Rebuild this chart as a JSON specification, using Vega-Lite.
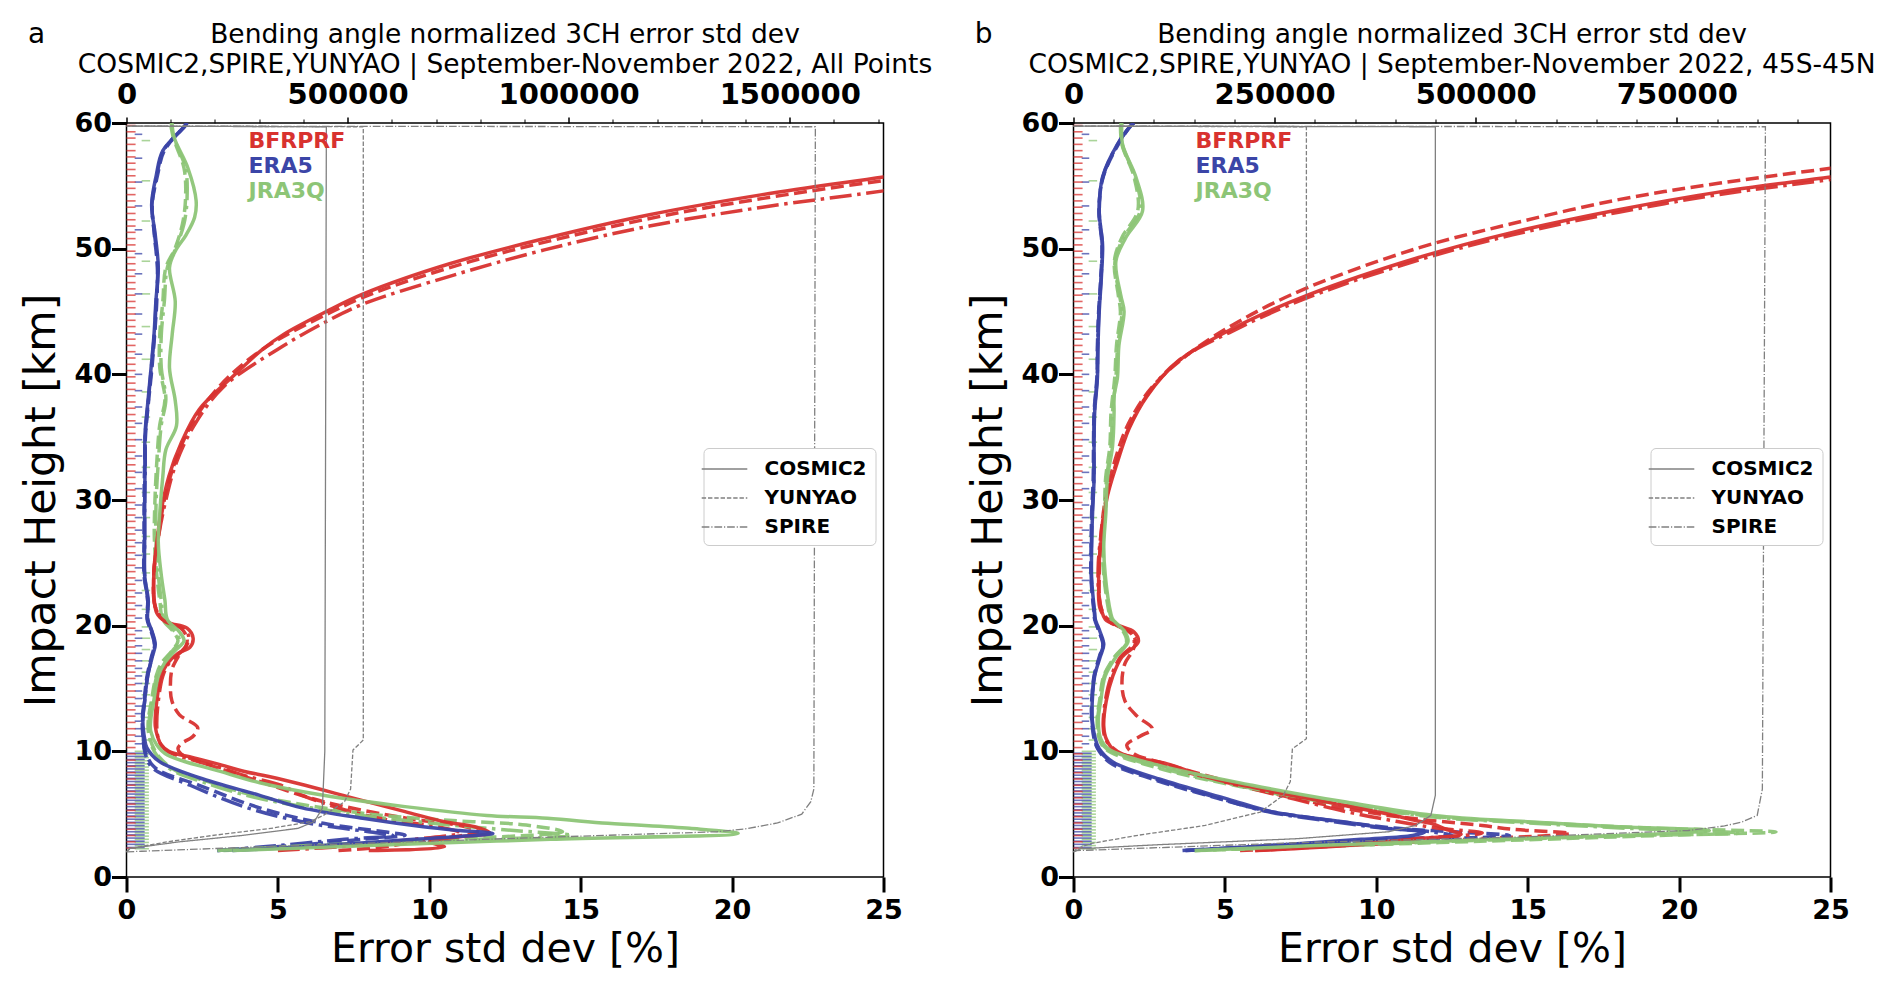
{
  "$schema": "https://vega.github.io/schema/vega-lite/v6.json",
  "background": "white",
  "padding": {"left": 19.5, "top": 20, "right": 10, "bottom": 8},
  "bounds": "flush",
  "spacing": 190,
  "datasets": {
    "prof": [
      {"panel":"a","model":"BFRPRF","mission":"COSMIC2","h":2.1,"err":8.0},
      {"panel":"a","model":"BFRPRF","mission":"COSMIC2","h":2.4,"err":10.5},
      {"panel":"a","model":"BFRPRF","mission":"COSMIC2","h":2.8,"err":10.0},
      {"panel":"a","model":"BFRPRF","mission":"COSMIC2","h":3.2,"err":11.0},
      {"panel":"a","model":"BFRPRF","mission":"COSMIC2","h":3.5,"err":12.0},
      {"panel":"a","model":"BFRPRF","mission":"COSMIC2","h":4.0,"err":11.5},
      {"panel":"a","model":"BFRPRF","mission":"COSMIC2","h":4.4,"err":10.5},
      {"panel":"a","model":"BFRPRF","mission":"COSMIC2","h":5.2,"err":9.2},
      {"panel":"a","model":"BFRPRF","mission":"COSMIC2","h":6.4,"err":7.3},
      {"panel":"a","model":"BFRPRF","mission":"COSMIC2","h":7.3,"err":5.9},
      {"panel":"a","model":"BFRPRF","mission":"COSMIC2","h":8.0,"err":4.7},
      {"panel":"a","model":"BFRPRF","mission":"COSMIC2","h":8.4,"err":3.9},
      {"panel":"a","model":"BFRPRF","mission":"COSMIC2","h":9.0,"err":3.0},
      {"panel":"a","model":"BFRPRF","mission":"COSMIC2","h":9.5,"err":2.2},
      {"panel":"a","model":"BFRPRF","mission":"COSMIC2","h":10.0,"err":1.4},
      {"panel":"a","model":"BFRPRF","mission":"COSMIC2","h":10.5,"err":1.15},
      {"panel":"a","model":"BFRPRF","mission":"COSMIC2","h":11,"err":1.05},
      {"panel":"a","model":"BFRPRF","mission":"COSMIC2","h":12,"err":0.95},
      {"panel":"a","model":"BFRPRF","mission":"COSMIC2","h":14,"err":1.0},
      {"panel":"a","model":"BFRPRF","mission":"COSMIC2","h":16,"err":1.15},
      {"panel":"a","model":"BFRPRF","mission":"COSMIC2","h":17,"err":1.35},
      {"panel":"a","model":"BFRPRF","mission":"COSMIC2","h":17.8,"err":1.7},
      {"panel":"a","model":"BFRPRF","mission":"COSMIC2","h":18.3,"err":2.1},
      {"panel":"a","model":"BFRPRF","mission":"COSMIC2","h":19,"err":2.2},
      {"panel":"a","model":"BFRPRF","mission":"COSMIC2","h":19.8,"err":2.0},
      {"panel":"a","model":"BFRPRF","mission":"COSMIC2","h":20.3,"err":1.3},
      {"panel":"a","model":"BFRPRF","mission":"COSMIC2","h":21,"err":1.0},
      {"panel":"a","model":"BFRPRF","mission":"COSMIC2","h":24,"err":0.9},
      {"panel":"a","model":"BFRPRF","mission":"COSMIC2","h":26.6,"err":1.0},
      {"panel":"a","model":"BFRPRF","mission":"COSMIC2","h":29.2,"err":1.15},
      {"panel":"a","model":"BFRPRF","mission":"COSMIC2","h":31.9,"err":1.4},
      {"panel":"a","model":"BFRPRF","mission":"COSMIC2","h":34.5,"err":1.8},
      {"panel":"a","model":"BFRPRF","mission":"COSMIC2","h":37.2,"err":2.4},
      {"panel":"a","model":"BFRPRF","mission":"COSMIC2","h":39.8,"err":3.5},
      {"panel":"a","model":"BFRPRF","mission":"COSMIC2","h":42,"err":4.5},
      {"panel":"a","model":"BFRPRF","mission":"COSMIC2","h":43.2,"err":5.2},
      {"panel":"a","model":"BFRPRF","mission":"COSMIC2","h":45,"err":6.6},
      {"panel":"a","model":"BFRPRF","mission":"COSMIC2","h":46.4,"err":7.82},
      {"panel":"a","model":"BFRPRF","mission":"COSMIC2","h":48.8,"err":10.67},
      {"panel":"a","model":"BFRPRF","mission":"COSMIC2","h":50.8,"err":13.8},
      {"panel":"a","model":"BFRPRF","mission":"COSMIC2","h":52.7,"err":17.27},
      {"panel":"a","model":"BFRPRF","mission":"COSMIC2","h":54.3,"err":21.0},
      {"panel":"a","model":"BFRPRF","mission":"COSMIC2","h":55.7,"err":25.0},
      {"panel":"a","model":"BFRPRF","mission":"COSMIC2","h":57,"err":28.7},
      {"panel":"a","model":"BFRPRF","mission":"COSMIC2","h":58,"err":32},

      {"panel":"a","model":"BFRPRF","mission":"YUNYAO","h":2.1,"err":7.0},
      {"panel":"a","model":"BFRPRF","mission":"YUNYAO","h":2.4,"err":8.5},
      {"panel":"a","model":"BFRPRF","mission":"YUNYAO","h":2.8,"err":9.5},
      {"panel":"a","model":"BFRPRF","mission":"YUNYAO","h":3.2,"err":10.8},
      {"panel":"a","model":"BFRPRF","mission":"YUNYAO","h":3.6,"err":11.6},
      {"panel":"a","model":"BFRPRF","mission":"YUNYAO","h":4.0,"err":11.2},
      {"panel":"a","model":"BFRPRF","mission":"YUNYAO","h":4.7,"err":9.2},
      {"panel":"a","model":"BFRPRF","mission":"YUNYAO","h":6.0,"err":6.5},
      {"panel":"a","model":"BFRPRF","mission":"YUNYAO","h":7.6,"err":4.4},
      {"panel":"a","model":"BFRPRF","mission":"YUNYAO","h":9.2,"err":2.4},
      {"panel":"a","model":"BFRPRF","mission":"YUNYAO","h":9.8,"err":1.8},
      {"panel":"a","model":"BFRPRF","mission":"YUNYAO","h":10.2,"err":1.7},
      {"panel":"a","model":"BFRPRF","mission":"YUNYAO","h":10.6,"err":1.8},
      {"panel":"a","model":"BFRPRF","mission":"YUNYAO","h":11.2,"err":2.2},
      {"panel":"a","model":"BFRPRF","mission":"YUNYAO","h":11.9,"err":2.35},
      {"panel":"a","model":"BFRPRF","mission":"YUNYAO","h":12.9,"err":1.75},
      {"panel":"a","model":"BFRPRF","mission":"YUNYAO","h":14,"err":1.5},
      {"panel":"a","model":"BFRPRF","mission":"YUNYAO","h":15.1,"err":1.45},
      {"panel":"a","model":"BFRPRF","mission":"YUNYAO","h":16.5,"err":1.5},
      {"panel":"a","model":"BFRPRF","mission":"YUNYAO","h":17.5,"err":1.7},
      {"panel":"a","model":"BFRPRF","mission":"YUNYAO","h":18.3,"err":1.95},
      {"panel":"a","model":"BFRPRF","mission":"YUNYAO","h":19,"err":2.0},
      {"panel":"a","model":"BFRPRF","mission":"YUNYAO","h":19.8,"err":1.8},
      {"panel":"a","model":"BFRPRF","mission":"YUNYAO","h":20.5,"err":1.2},
      {"panel":"a","model":"BFRPRF","mission":"YUNYAO","h":21.5,"err":0.95},
      {"panel":"a","model":"BFRPRF","mission":"YUNYAO","h":24,"err":0.9},
      {"panel":"a","model":"BFRPRF","mission":"YUNYAO","h":27,"err":1.05},
      {"panel":"a","model":"BFRPRF","mission":"YUNYAO","h":30,"err":1.25},
      {"panel":"a","model":"BFRPRF","mission":"YUNYAO","h":33,"err":1.6},
      {"panel":"a","model":"BFRPRF","mission":"YUNYAO","h":36,"err":2.15},
      {"panel":"a","model":"BFRPRF","mission":"YUNYAO","h":39,"err":3.05},
      {"panel":"a","model":"BFRPRF","mission":"YUNYAO","h":42,"err":4.5},
      {"panel":"a","model":"BFRPRF","mission":"YUNYAO","h":45,"err":6.8},
      {"panel":"a","model":"BFRPRF","mission":"YUNYAO","h":46.4,"err":8.1},
      {"panel":"a","model":"BFRPRF","mission":"YUNYAO","h":48.8,"err":11.1},
      {"panel":"a","model":"BFRPRF","mission":"YUNYAO","h":50.8,"err":14.3},
      {"panel":"a","model":"BFRPRF","mission":"YUNYAO","h":52.7,"err":17.9},
      {"panel":"a","model":"BFRPRF","mission":"YUNYAO","h":54.3,"err":21.8},
      {"panel":"a","model":"BFRPRF","mission":"YUNYAO","h":55.7,"err":25.8},
      {"panel":"a","model":"BFRPRF","mission":"YUNYAO","h":57,"err":29.5},

      {"panel":"a","model":"BFRPRF","mission":"SPIRE","h":2.1,"err":5.0},
      {"panel":"a","model":"BFRPRF","mission":"SPIRE","h":2.5,"err":7.5},
      {"panel":"a","model":"BFRPRF","mission":"SPIRE","h":3.0,"err":9.5},
      {"panel":"a","model":"BFRPRF","mission":"SPIRE","h":3.5,"err":11.0},
      {"panel":"a","model":"BFRPRF","mission":"SPIRE","h":4.0,"err":10.3},
      {"panel":"a","model":"BFRPRF","mission":"SPIRE","h":4.6,"err":8.5},
      {"panel":"a","model":"BFRPRF","mission":"SPIRE","h":5.5,"err":7.0},
      {"panel":"a","model":"BFRPRF","mission":"SPIRE","h":6.5,"err":5.8},
      {"panel":"a","model":"BFRPRF","mission":"SPIRE","h":7.3,"err":5.1},
      {"panel":"a","model":"BFRPRF","mission":"SPIRE","h":8.0,"err":4.0},
      {"panel":"a","model":"BFRPRF","mission":"SPIRE","h":8.7,"err":3.1},
      {"panel":"a","model":"BFRPRF","mission":"SPIRE","h":9.3,"err":2.2},
      {"panel":"a","model":"BFRPRF","mission":"SPIRE","h":10.0,"err":1.35},
      {"panel":"a","model":"BFRPRF","mission":"SPIRE","h":10.5,"err":1.15},
      {"panel":"a","model":"BFRPRF","mission":"SPIRE","h":11,"err":1.05},
      {"panel":"a","model":"BFRPRF","mission":"SPIRE","h":12,"err":1.0},
      {"panel":"a","model":"BFRPRF","mission":"SPIRE","h":14,"err":1.05},
      {"panel":"a","model":"BFRPRF","mission":"SPIRE","h":16,"err":1.2},
      {"panel":"a","model":"BFRPRF","mission":"SPIRE","h":17,"err":1.4},
      {"panel":"a","model":"BFRPRF","mission":"SPIRE","h":17.8,"err":1.75},
      {"panel":"a","model":"BFRPRF","mission":"SPIRE","h":18.5,"err":2.0},
      {"panel":"a","model":"BFRPRF","mission":"SPIRE","h":19.2,"err":2.05},
      {"panel":"a","model":"BFRPRF","mission":"SPIRE","h":19.8,"err":1.85},
      {"panel":"a","model":"BFRPRF","mission":"SPIRE","h":20.4,"err":1.25},
      {"panel":"a","model":"BFRPRF","mission":"SPIRE","h":21.5,"err":0.95},
      {"panel":"a","model":"BFRPRF","mission":"SPIRE","h":24,"err":0.9},
      {"panel":"a","model":"BFRPRF","mission":"SPIRE","h":27,"err":1.05},
      {"panel":"a","model":"BFRPRF","mission":"SPIRE","h":30,"err":1.3},
      {"panel":"a","model":"BFRPRF","mission":"SPIRE","h":33,"err":1.65},
      {"panel":"a","model":"BFRPRF","mission":"SPIRE","h":36,"err":2.25},
      {"panel":"a","model":"BFRPRF","mission":"SPIRE","h":39,"err":3.2},
      {"panel":"a","model":"BFRPRF","mission":"SPIRE","h":42,"err":5.0},
      {"panel":"a","model":"BFRPRF","mission":"SPIRE","h":44.2,"err":6.6},
      {"panel":"a","model":"BFRPRF","mission":"SPIRE","h":45.6,"err":7.82},
      {"panel":"a","model":"BFRPRF","mission":"SPIRE","h":47.8,"err":10.67},
      {"panel":"a","model":"BFRPRF","mission":"SPIRE","h":49.9,"err":13.8},
      {"panel":"a","model":"BFRPRF","mission":"SPIRE","h":51.8,"err":17.27},
      {"panel":"a","model":"BFRPRF","mission":"SPIRE","h":53.3,"err":21.0},
      {"panel":"a","model":"BFRPRF","mission":"SPIRE","h":54.6,"err":25.0},
      {"panel":"a","model":"BFRPRF","mission":"SPIRE","h":56,"err":29},

      {"panel":"a","model":"ERA5","mission":"COSMIC2","h":2.1,"err":3.5},
      {"panel":"a","model":"ERA5","mission":"COSMIC2","h":2.5,"err":6.5},
      {"panel":"a","model":"ERA5","mission":"COSMIC2","h":3.0,"err":9.5},
      {"panel":"a","model":"ERA5","mission":"COSMIC2","h":3.47,"err":12.1},
      {"panel":"a","model":"ERA5","mission":"COSMIC2","h":3.7,"err":11.0},
      {"panel":"a","model":"ERA5","mission":"COSMIC2","h":4.0,"err":9.8},
      {"panel":"a","model":"ERA5","mission":"COSMIC2","h":4.67,"err":7.8},
      {"panel":"a","model":"ERA5","mission":"COSMIC2","h":5.5,"err":5.8},
      {"panel":"a","model":"ERA5","mission":"COSMIC2","h":6.5,"err":4.4},
      {"panel":"a","model":"ERA5","mission":"COSMIC2","h":7.9,"err":2.4},
      {"panel":"a","model":"ERA5","mission":"COSMIC2","h":9.2,"err":1.08},
      {"panel":"a","model":"ERA5","mission":"COSMIC2","h":10.3,"err":0.67},
      {"panel":"a","model":"ERA5","mission":"COSMIC2","h":11,"err":0.6},
      {"panel":"a","model":"ERA5","mission":"COSMIC2","h":12.4,"err":0.54},
      {"panel":"a","model":"ERA5","mission":"COSMIC2","h":14,"err":0.6},
      {"panel":"a","model":"ERA5","mission":"COSMIC2","h":16,"err":0.7},
      {"panel":"a","model":"ERA5","mission":"COSMIC2","h":17.5,"err":0.85},
      {"panel":"a","model":"ERA5","mission":"COSMIC2","h":18.5,"err":0.95},
      {"panel":"a","model":"ERA5","mission":"COSMIC2","h":19.5,"err":0.85},
      {"panel":"a","model":"ERA5","mission":"COSMIC2","h":20.5,"err":0.7},
      {"panel":"a","model":"ERA5","mission":"COSMIC2","h":22,"err":0.72},
      {"panel":"a","model":"ERA5","mission":"COSMIC2","h":24,"err":0.6},
      {"panel":"a","model":"ERA5","mission":"COSMIC2","h":26.6,"err":0.6},
      {"panel":"a","model":"ERA5","mission":"COSMIC2","h":29,"err":0.6},
      {"panel":"a","model":"ERA5","mission":"COSMIC2","h":32.5,"err":0.61},
      {"panel":"a","model":"ERA5","mission":"COSMIC2","h":35.2,"err":0.61},
      {"panel":"a","model":"ERA5","mission":"COSMIC2","h":37.9,"err":0.71},
      {"panel":"a","model":"ERA5","mission":"COSMIC2","h":40.5,"err":0.81},
      {"panel":"a","model":"ERA5","mission":"COSMIC2","h":43.2,"err":0.91},
      {"panel":"a","model":"ERA5","mission":"COSMIC2","h":45.8,"err":0.97},
      {"panel":"a","model":"ERA5","mission":"COSMIC2","h":48.5,"err":1.05},
      {"panel":"a","model":"ERA5","mission":"COSMIC2","h":51.1,"err":0.95},
      {"panel":"a","model":"ERA5","mission":"COSMIC2","h":53.5,"err":0.83},
      {"panel":"a","model":"ERA5","mission":"COSMIC2","h":55.8,"err":0.98},
      {"panel":"a","model":"ERA5","mission":"COSMIC2","h":57.8,"err":1.2},
      {"panel":"a","model":"ERA5","mission":"COSMIC2","h":59.7,"err":1.92},
      {"panel":"a","model":"ERA5","mission":"COSMIC2","h":60,"err":2.0},

      {"panel":"a","model":"ERA5","mission":"YUNYAO","h":2.1,"err":3.0},
      {"panel":"a","model":"ERA5","mission":"YUNYAO","h":2.5,"err":5.5},
      {"panel":"a","model":"ERA5","mission":"YUNYAO","h":3.0,"err":7.8},
      {"panel":"a","model":"ERA5","mission":"YUNYAO","h":3.33,"err":9.2},
      {"panel":"a","model":"ERA5","mission":"YUNYAO","h":3.6,"err":8.5},
      {"panel":"a","model":"ERA5","mission":"YUNYAO","h":4.27,"err":6.5},
      {"panel":"a","model":"ERA5","mission":"YUNYAO","h":5.5,"err":4.4},
      {"panel":"a","model":"ERA5","mission":"YUNYAO","h":7.3,"err":2.4},
      {"panel":"a","model":"ERA5","mission":"YUNYAO","h":8.7,"err":0.94},
      {"panel":"a","model":"ERA5","mission":"YUNYAO","h":10,"err":0.62},
      {"panel":"a","model":"ERA5","mission":"YUNYAO","h":11,"err":0.55},
      {"panel":"a","model":"ERA5","mission":"YUNYAO","h":12.4,"err":0.52},
      {"panel":"a","model":"ERA5","mission":"YUNYAO","h":14,"err":0.58},
      {"panel":"a","model":"ERA5","mission":"YUNYAO","h":16,"err":0.68},
      {"panel":"a","model":"ERA5","mission":"YUNYAO","h":17.5,"err":0.82},
      {"panel":"a","model":"ERA5","mission":"YUNYAO","h":18.5,"err":0.92},
      {"panel":"a","model":"ERA5","mission":"YUNYAO","h":19.5,"err":0.82},
      {"panel":"a","model":"ERA5","mission":"YUNYAO","h":20.5,"err":0.68},
      {"panel":"a","model":"ERA5","mission":"YUNYAO","h":22,"err":0.7},
      {"panel":"a","model":"ERA5","mission":"YUNYAO","h":24,"err":0.58},
      {"panel":"a","model":"ERA5","mission":"YUNYAO","h":27,"err":0.58},
      {"panel":"a","model":"ERA5","mission":"YUNYAO","h":30,"err":0.58},
      {"panel":"a","model":"ERA5","mission":"YUNYAO","h":33,"err":0.6},
      {"panel":"a","model":"ERA5","mission":"YUNYAO","h":35.2,"err":0.63},
      {"panel":"a","model":"ERA5","mission":"YUNYAO","h":37.9,"err":0.73},
      {"panel":"a","model":"ERA5","mission":"YUNYAO","h":40.5,"err":0.84},
      {"panel":"a","model":"ERA5","mission":"YUNYAO","h":43.2,"err":0.93},
      {"panel":"a","model":"ERA5","mission":"YUNYAO","h":45.8,"err":1.0},
      {"panel":"a","model":"ERA5","mission":"YUNYAO","h":48.5,"err":1.02},
      {"panel":"a","model":"ERA5","mission":"YUNYAO","h":51.1,"err":0.92},
      {"panel":"a","model":"ERA5","mission":"YUNYAO","h":53.5,"err":0.85},
      {"panel":"a","model":"ERA5","mission":"YUNYAO","h":55.8,"err":1.02},
      {"panel":"a","model":"ERA5","mission":"YUNYAO","h":57.8,"err":1.25},
      {"panel":"a","model":"ERA5","mission":"YUNYAO","h":59.7,"err":1.9},
      {"panel":"a","model":"ERA5","mission":"YUNYAO","h":60,"err":2.0},

      {"panel":"a","model":"ERA5","mission":"SPIRE","h":2.1,"err":3.0},
      {"panel":"a","model":"ERA5","mission":"SPIRE","h":2.5,"err":5.0},
      {"panel":"a","model":"ERA5","mission":"SPIRE","h":3.0,"err":7.2},
      {"panel":"a","model":"ERA5","mission":"SPIRE","h":3.3,"err":8.8},
      {"panel":"a","model":"ERA5","mission":"SPIRE","h":3.6,"err":8.0},
      {"panel":"a","model":"ERA5","mission":"SPIRE","h":4.3,"err":6.0},
      {"panel":"a","model":"ERA5","mission":"SPIRE","h":5.5,"err":4.0},
      {"panel":"a","model":"ERA5","mission":"SPIRE","h":7.3,"err":2.1},
      {"panel":"a","model":"ERA5","mission":"SPIRE","h":8.7,"err":0.85},
      {"panel":"a","model":"ERA5","mission":"SPIRE","h":10,"err":0.6},
      {"panel":"a","model":"ERA5","mission":"SPIRE","h":11,"err":0.56},
      {"panel":"a","model":"ERA5","mission":"SPIRE","h":12.4,"err":0.53},
      {"panel":"a","model":"ERA5","mission":"SPIRE","h":14,"err":0.6},
      {"panel":"a","model":"ERA5","mission":"SPIRE","h":16,"err":0.7},
      {"panel":"a","model":"ERA5","mission":"SPIRE","h":17.5,"err":0.84},
      {"panel":"a","model":"ERA5","mission":"SPIRE","h":18.5,"err":0.93},
      {"panel":"a","model":"ERA5","mission":"SPIRE","h":19.5,"err":0.84},
      {"panel":"a","model":"ERA5","mission":"SPIRE","h":20.5,"err":0.7},
      {"panel":"a","model":"ERA5","mission":"SPIRE","h":22,"err":0.7},
      {"panel":"a","model":"ERA5","mission":"SPIRE","h":24,"err":0.6},
      {"panel":"a","model":"ERA5","mission":"SPIRE","h":27,"err":0.6},
      {"panel":"a","model":"ERA5","mission":"SPIRE","h":30,"err":0.6},
      {"panel":"a","model":"ERA5","mission":"SPIRE","h":33,"err":0.62},
      {"panel":"a","model":"ERA5","mission":"SPIRE","h":35.2,"err":0.62},
      {"panel":"a","model":"ERA5","mission":"SPIRE","h":37.9,"err":0.72},
      {"panel":"a","model":"ERA5","mission":"SPIRE","h":40.5,"err":0.82},
      {"panel":"a","model":"ERA5","mission":"SPIRE","h":43.2,"err":0.92},
      {"panel":"a","model":"ERA5","mission":"SPIRE","h":45.8,"err":0.98},
      {"panel":"a","model":"ERA5","mission":"SPIRE","h":48.5,"err":1.03},
      {"panel":"a","model":"ERA5","mission":"SPIRE","h":51.1,"err":0.93},
      {"panel":"a","model":"ERA5","mission":"SPIRE","h":53.5,"err":0.84},
      {"panel":"a","model":"ERA5","mission":"SPIRE","h":55.8,"err":1.0},
      {"panel":"a","model":"ERA5","mission":"SPIRE","h":57.8,"err":1.22},
      {"panel":"a","model":"ERA5","mission":"SPIRE","h":59.7,"err":1.9},
      {"panel":"a","model":"ERA5","mission":"SPIRE","h":60,"err":2.0},

      {"panel":"a","model":"JRA3Q","mission":"COSMIC2","h":2.1,"err":3.5},
      {"panel":"a","model":"JRA3Q","mission":"COSMIC2","h":2.5,"err":8.0},
      {"panel":"a","model":"JRA3Q","mission":"COSMIC2","h":3.0,"err":14.0},
      {"panel":"a","model":"JRA3Q","mission":"COSMIC2","h":3.47,"err":20.2},
      {"panel":"a","model":"JRA3Q","mission":"COSMIC2","h":3.87,"err":18.6},
      {"panel":"a","model":"JRA3Q","mission":"COSMIC2","h":4.27,"err":15.9},
      {"panel":"a","model":"JRA3Q","mission":"COSMIC2","h":4.67,"err":13.9},
      {"panel":"a","model":"JRA3Q","mission":"COSMIC2","h":4.9,"err":11.9},
      {"panel":"a","model":"JRA3Q","mission":"COSMIC2","h":5.6,"err":9.2},
      {"panel":"a","model":"JRA3Q","mission":"COSMIC2","h":6.5,"err":6.5},
      {"panel":"a","model":"JRA3Q","mission":"COSMIC2","h":7.5,"err":4.4},
      {"panel":"a","model":"JRA3Q","mission":"COSMIC2","h":8.4,"err":3.1},
      {"panel":"a","model":"JRA3Q","mission":"COSMIC2","h":9.7,"err":1.35},
      {"panel":"a","model":"JRA3Q","mission":"COSMIC2","h":10.5,"err":1.0},
      {"panel":"a","model":"JRA3Q","mission":"COSMIC2","h":11.6,"err":0.8},
      {"panel":"a","model":"JRA3Q","mission":"COSMIC2","h":12.5,"err":0.8},
      {"panel":"a","model":"JRA3Q","mission":"COSMIC2","h":14,"err":0.9},
      {"panel":"a","model":"JRA3Q","mission":"COSMIC2","h":16,"err":1.05},
      {"panel":"a","model":"JRA3Q","mission":"COSMIC2","h":17,"err":1.25},
      {"panel":"a","model":"JRA3Q","mission":"COSMIC2","h":18,"err":1.6},
      {"panel":"a","model":"JRA3Q","mission":"COSMIC2","h":18.8,"err":1.9},
      {"panel":"a","model":"JRA3Q","mission":"COSMIC2","h":19.5,"err":1.75},
      {"panel":"a","model":"JRA3Q","mission":"COSMIC2","h":20.5,"err":1.35},
      {"panel":"a","model":"JRA3Q","mission":"COSMIC2","h":22,"err":1.27},
      {"panel":"a","model":"JRA3Q","mission":"COSMIC2","h":24,"err":1.15},
      {"panel":"a","model":"JRA3Q","mission":"COSMIC2","h":26.6,"err":1.05},
      {"panel":"a","model":"JRA3Q","mission":"COSMIC2","h":29,"err":1.1},
      {"panel":"a","model":"JRA3Q","mission":"COSMIC2","h":31.9,"err":1.2},
      {"panel":"a","model":"JRA3Q","mission":"COSMIC2","h":34,"err":1.3},
      {"panel":"a","model":"JRA3Q","mission":"COSMIC2","h":35.9,"err":1.65},
      {"panel":"a","model":"JRA3Q","mission":"COSMIC2","h":37.9,"err":1.61},
      {"panel":"a","model":"JRA3Q","mission":"COSMIC2","h":40.5,"err":1.42},
      {"panel":"a","model":"JRA3Q","mission":"COSMIC2","h":43.2,"err":1.51},
      {"panel":"a","model":"JRA3Q","mission":"COSMIC2","h":45.8,"err":1.61},
      {"panel":"a","model":"JRA3Q","mission":"COSMIC2","h":48.5,"err":1.42},
      {"panel":"a","model":"JRA3Q","mission":"COSMIC2","h":49.8,"err":1.61},
      {"panel":"a","model":"JRA3Q","mission":"COSMIC2","h":51.1,"err":1.97},
      {"panel":"a","model":"JRA3Q","mission":"COSMIC2","h":52.5,"err":2.25},
      {"panel":"a","model":"JRA3Q","mission":"COSMIC2","h":53.8,"err":2.3},
      {"panel":"a","model":"JRA3Q","mission":"COSMIC2","h":56.4,"err":2.03},
      {"panel":"a","model":"JRA3Q","mission":"COSMIC2","h":58.8,"err":1.58},
      {"panel":"a","model":"JRA3Q","mission":"COSMIC2","h":60,"err":1.5},

      {"panel":"a","model":"JRA3Q","mission":"YUNYAO","h":2.1,"err":3.2},
      {"panel":"a","model":"JRA3Q","mission":"YUNYAO","h":2.5,"err":6.5},
      {"panel":"a","model":"JRA3Q","mission":"YUNYAO","h":3.0,"err":10.5},
      {"panel":"a","model":"JRA3Q","mission":"YUNYAO","h":3.6,"err":14.4},
      {"panel":"a","model":"JRA3Q","mission":"YUNYAO","h":4.13,"err":13.2},
      {"panel":"a","model":"JRA3Q","mission":"YUNYAO","h":4.53,"err":10.5},
      {"panel":"a","model":"JRA3Q","mission":"YUNYAO","h":5.07,"err":7.8},
      {"panel":"a","model":"JRA3Q","mission":"YUNYAO","h":6.5,"err":4.2},
      {"panel":"a","model":"JRA3Q","mission":"YUNYAO","h":7.5,"err":2.8},
      {"panel":"a","model":"JRA3Q","mission":"YUNYAO","h":8.5,"err":1.6},
      {"panel":"a","model":"JRA3Q","mission":"YUNYAO","h":9.5,"err":1.1},
      {"panel":"a","model":"JRA3Q","mission":"YUNYAO","h":10.5,"err":0.85},
      {"panel":"a","model":"JRA3Q","mission":"YUNYAO","h":11.6,"err":0.72},
      {"panel":"a","model":"JRA3Q","mission":"YUNYAO","h":12.5,"err":0.72},
      {"panel":"a","model":"JRA3Q","mission":"YUNYAO","h":14,"err":0.82},
      {"panel":"a","model":"JRA3Q","mission":"YUNYAO","h":16,"err":0.98},
      {"panel":"a","model":"JRA3Q","mission":"YUNYAO","h":17,"err":1.15},
      {"panel":"a","model":"JRA3Q","mission":"YUNYAO","h":18,"err":1.5},
      {"panel":"a","model":"JRA3Q","mission":"YUNYAO","h":18.8,"err":1.7},
      {"panel":"a","model":"JRA3Q","mission":"YUNYAO","h":19.5,"err":1.55},
      {"panel":"a","model":"JRA3Q","mission":"YUNYAO","h":20.5,"err":1.2},
      {"panel":"a","model":"JRA3Q","mission":"YUNYAO","h":22,"err":1.1},
      {"panel":"a","model":"JRA3Q","mission":"YUNYAO","h":24,"err":1.0},
      {"panel":"a","model":"JRA3Q","mission":"YUNYAO","h":27,"err":0.92},
      {"panel":"a","model":"JRA3Q","mission":"YUNYAO","h":30,"err":0.94},
      {"panel":"a","model":"JRA3Q","mission":"YUNYAO","h":33,"err":1.0},
      {"panel":"a","model":"JRA3Q","mission":"YUNYAO","h":36,"err":1.1},
      {"panel":"a","model":"JRA3Q","mission":"YUNYAO","h":38,"err":1.27},
      {"panel":"a","model":"JRA3Q","mission":"YUNYAO","h":40.5,"err":1.1},
      {"panel":"a","model":"JRA3Q","mission":"YUNYAO","h":43.2,"err":1.1},
      {"panel":"a","model":"JRA3Q","mission":"YUNYAO","h":45.8,"err":1.2},
      {"panel":"a","model":"JRA3Q","mission":"YUNYAO","h":48.5,"err":1.3},
      {"panel":"a","model":"JRA3Q","mission":"YUNYAO","h":50,"err":1.6},
      {"panel":"a","model":"JRA3Q","mission":"YUNYAO","h":52,"err":1.85},
      {"panel":"a","model":"JRA3Q","mission":"YUNYAO","h":54,"err":1.95},
      {"panel":"a","model":"JRA3Q","mission":"YUNYAO","h":56.4,"err":1.9},
      {"panel":"a","model":"JRA3Q","mission":"YUNYAO","h":58.8,"err":1.55},
      {"panel":"a","model":"JRA3Q","mission":"YUNYAO","h":60,"err":1.45},

      {"panel":"a","model":"JRA3Q","mission":"SPIRE","h":2.1,"err":3.0},
      {"panel":"a","model":"JRA3Q","mission":"SPIRE","h":2.5,"err":6.0},
      {"panel":"a","model":"JRA3Q","mission":"SPIRE","h":2.9,"err":10.0},
      {"panel":"a","model":"JRA3Q","mission":"SPIRE","h":3.3,"err":14.7},
      {"panel":"a","model":"JRA3Q","mission":"SPIRE","h":3.7,"err":12.8},
      {"panel":"a","model":"JRA3Q","mission":"SPIRE","h":4.3,"err":10.0},
      {"panel":"a","model":"JRA3Q","mission":"SPIRE","h":5.0,"err":7.5},
      {"panel":"a","model":"JRA3Q","mission":"SPIRE","h":6.3,"err":4.3},
      {"panel":"a","model":"JRA3Q","mission":"SPIRE","h":7.5,"err":2.6},
      {"panel":"a","model":"JRA3Q","mission":"SPIRE","h":8.5,"err":1.5},
      {"panel":"a","model":"JRA3Q","mission":"SPIRE","h":9.5,"err":1.05},
      {"panel":"a","model":"JRA3Q","mission":"SPIRE","h":10.5,"err":0.82},
      {"panel":"a","model":"JRA3Q","mission":"SPIRE","h":11.6,"err":0.75},
      {"panel":"a","model":"JRA3Q","mission":"SPIRE","h":12.5,"err":0.75},
      {"panel":"a","model":"JRA3Q","mission":"SPIRE","h":14,"err":0.85},
      {"panel":"a","model":"JRA3Q","mission":"SPIRE","h":16,"err":1.0},
      {"panel":"a","model":"JRA3Q","mission":"SPIRE","h":17,"err":1.18},
      {"panel":"a","model":"JRA3Q","mission":"SPIRE","h":18,"err":1.52},
      {"panel":"a","model":"JRA3Q","mission":"SPIRE","h":18.8,"err":1.75},
      {"panel":"a","model":"JRA3Q","mission":"SPIRE","h":19.5,"err":1.6},
      {"panel":"a","model":"JRA3Q","mission":"SPIRE","h":20.5,"err":1.25},
      {"panel":"a","model":"JRA3Q","mission":"SPIRE","h":22,"err":1.15},
      {"panel":"a","model":"JRA3Q","mission":"SPIRE","h":24,"err":1.05},
      {"panel":"a","model":"JRA3Q","mission":"SPIRE","h":27,"err":0.97},
      {"panel":"a","model":"JRA3Q","mission":"SPIRE","h":30,"err":0.98},
      {"panel":"a","model":"JRA3Q","mission":"SPIRE","h":33,"err":1.05},
      {"panel":"a","model":"JRA3Q","mission":"SPIRE","h":36,"err":1.15},
      {"panel":"a","model":"JRA3Q","mission":"SPIRE","h":38,"err":1.3},
      {"panel":"a","model":"JRA3Q","mission":"SPIRE","h":40.5,"err":1.15},
      {"panel":"a","model":"JRA3Q","mission":"SPIRE","h":43.2,"err":1.15},
      {"panel":"a","model":"JRA3Q","mission":"SPIRE","h":45.8,"err":1.25},
      {"panel":"a","model":"JRA3Q","mission":"SPIRE","h":48.5,"err":1.35},
      {"panel":"a","model":"JRA3Q","mission":"SPIRE","h":50,"err":1.62},
      {"panel":"a","model":"JRA3Q","mission":"SPIRE","h":52,"err":1.9},
      {"panel":"a","model":"JRA3Q","mission":"SPIRE","h":54,"err":2.0},
      {"panel":"a","model":"JRA3Q","mission":"SPIRE","h":56.4,"err":1.95},
      {"panel":"a","model":"JRA3Q","mission":"SPIRE","h":58.8,"err":1.57},
      {"panel":"a","model":"JRA3Q","mission":"SPIRE","h":60,"err":1.48},

      {"panel":"b","model":"BFRPRF","mission":"COSMIC2","h":2.1,"err":6.0},
      {"panel":"b","model":"BFRPRF","mission":"COSMIC2","h":2.5,"err":9.0},
      {"panel":"b","model":"BFRPRF","mission":"COSMIC2","h":3.0,"err":11.0},
      {"panel":"b","model":"BFRPRF","mission":"COSMIC2","h":3.4,"err":12.8},
      {"panel":"b","model":"BFRPRF","mission":"COSMIC2","h":3.8,"err":12.3},
      {"panel":"b","model":"BFRPRF","mission":"COSMIC2","h":4.2,"err":11.9},
      {"panel":"b","model":"BFRPRF","mission":"COSMIC2","h":4.5,"err":11.3},
      {"panel":"b","model":"BFRPRF","mission":"COSMIC2","h":5.0,"err":10.4},
      {"panel":"b","model":"BFRPRF","mission":"COSMIC2","h":6.0,"err":8.3},
      {"panel":"b","model":"BFRPRF","mission":"COSMIC2","h":7.0,"err":6.2},
      {"panel":"b","model":"BFRPRF","mission":"COSMIC2","h":8.0,"err":4.35},
      {"panel":"b","model":"BFRPRF","mission":"COSMIC2","h":9.0,"err":3.1},
      {"panel":"b","model":"BFRPRF","mission":"COSMIC2","h":9.5,"err":2.07},
      {"panel":"b","model":"BFRPRF","mission":"COSMIC2","h":10.0,"err":1.38},
      {"panel":"b","model":"BFRPRF","mission":"COSMIC2","h":11,"err":1.08},
      {"panel":"b","model":"BFRPRF","mission":"COSMIC2","h":12,"err":1.0},
      {"panel":"b","model":"BFRPRF","mission":"COSMIC2","h":14,"err":1.08},
      {"panel":"b","model":"BFRPRF","mission":"COSMIC2","h":16,"err":1.3},
      {"panel":"b","model":"BFRPRF","mission":"COSMIC2","h":17.5,"err":1.6},
      {"panel":"b","model":"BFRPRF","mission":"COSMIC2","h":18.7,"err":2.14},
      {"panel":"b","model":"BFRPRF","mission":"COSMIC2","h":19.5,"err":2.0},
      {"panel":"b","model":"BFRPRF","mission":"COSMIC2","h":20.0,"err":1.5},
      {"panel":"b","model":"BFRPRF","mission":"COSMIC2","h":20.5,"err":1.05},
      {"panel":"b","model":"BFRPRF","mission":"COSMIC2","h":22.3,"err":0.85},
      {"panel":"b","model":"BFRPRF","mission":"COSMIC2","h":25,"err":0.85},
      {"panel":"b","model":"BFRPRF","mission":"COSMIC2","h":27.7,"err":0.96},
      {"panel":"b","model":"BFRPRF","mission":"COSMIC2","h":30.3,"err":1.12},
      {"panel":"b","model":"BFRPRF","mission":"COSMIC2","h":33,"err":1.45},
      {"panel":"b","model":"BFRPRF","mission":"COSMIC2","h":35.7,"err":1.84},
      {"panel":"b","model":"BFRPRF","mission":"COSMIC2","h":38.3,"err":2.44},
      {"panel":"b","model":"BFRPRF","mission":"COSMIC2","h":41,"err":3.44},
      {"panel":"b","model":"BFRPRF","mission":"COSMIC2","h":43.7,"err":5.3},
      {"panel":"b","model":"BFRPRF","mission":"COSMIC2","h":46.3,"err":7.73},
      {"panel":"b","model":"BFRPRF","mission":"COSMIC2","h":49.3,"err":11.4},
      {"panel":"b","model":"BFRPRF","mission":"COSMIC2","h":51.3,"err":14.5},
      {"panel":"b","model":"BFRPRF","mission":"COSMIC2","h":53.1,"err":18.0},
      {"panel":"b","model":"BFRPRF","mission":"COSMIC2","h":54.5,"err":21.3},
      {"panel":"b","model":"BFRPRF","mission":"COSMIC2","h":55.7,"err":25.0},
      {"panel":"b","model":"BFRPRF","mission":"COSMIC2","h":57,"err":29},

      {"panel":"b","model":"BFRPRF","mission":"YUNYAO","h":2.1,"err":5.5},
      {"panel":"b","model":"BFRPRF","mission":"YUNYAO","h":2.5,"err":9.0},
      {"panel":"b","model":"BFRPRF","mission":"YUNYAO","h":3.0,"err":13.0},
      {"panel":"b","model":"BFRPRF","mission":"YUNYAO","h":3.45,"err":16.4},
      {"panel":"b","model":"BFRPRF","mission":"YUNYAO","h":3.8,"err":14.5},
      {"panel":"b","model":"BFRPRF","mission":"YUNYAO","h":4.1,"err":13.5},
      {"panel":"b","model":"BFRPRF","mission":"YUNYAO","h":4.9,"err":10.4},
      {"panel":"b","model":"BFRPRF","mission":"YUNYAO","h":6.2,"err":7.4},
      {"panel":"b","model":"BFRPRF","mission":"YUNYAO","h":7.6,"err":5.1},
      {"panel":"b","model":"BFRPRF","mission":"YUNYAO","h":9.15,"err":2.83},
      {"panel":"b","model":"BFRPRF","mission":"YUNYAO","h":9.8,"err":2.0},
      {"panel":"b","model":"BFRPRF","mission":"YUNYAO","h":10.5,"err":1.76},
      {"panel":"b","model":"BFRPRF","mission":"YUNYAO","h":11.2,"err":2.2},
      {"panel":"b","model":"BFRPRF","mission":"YUNYAO","h":11.8,"err":2.6},
      {"panel":"b","model":"BFRPRF","mission":"YUNYAO","h":12.8,"err":2.1},
      {"panel":"b","model":"BFRPRF","mission":"YUNYAO","h":14,"err":1.7},
      {"panel":"b","model":"BFRPRF","mission":"YUNYAO","h":15.5,"err":1.6},
      {"panel":"b","model":"BFRPRF","mission":"YUNYAO","h":17,"err":1.7},
      {"panel":"b","model":"BFRPRF","mission":"YUNYAO","h":18,"err":1.95},
      {"panel":"b","model":"BFRPRF","mission":"YUNYAO","h":18.8,"err":2.05},
      {"panel":"b","model":"BFRPRF","mission":"YUNYAO","h":19.6,"err":1.8},
      {"panel":"b","model":"BFRPRF","mission":"YUNYAO","h":20.3,"err":1.2},
      {"panel":"b","model":"BFRPRF","mission":"YUNYAO","h":21.5,"err":0.9},
      {"panel":"b","model":"BFRPRF","mission":"YUNYAO","h":24,"err":0.85},
      {"panel":"b","model":"BFRPRF","mission":"YUNYAO","h":27,"err":0.9},
      {"panel":"b","model":"BFRPRF","mission":"YUNYAO","h":30,"err":1.05},
      {"panel":"b","model":"BFRPRF","mission":"YUNYAO","h":33,"err":1.35},
      {"panel":"b","model":"BFRPRF","mission":"YUNYAO","h":36,"err":1.8},
      {"panel":"b","model":"BFRPRF","mission":"YUNYAO","h":39,"err":2.6},
      {"panel":"b","model":"BFRPRF","mission":"YUNYAO","h":41.8,"err":3.9},
      {"panel":"b","model":"BFRPRF","mission":"YUNYAO","h":44.4,"err":5.6},
      {"panel":"b","model":"BFRPRF","mission":"YUNYAO","h":46.9,"err":7.73},
      {"panel":"b","model":"BFRPRF","mission":"YUNYAO","h":50.06,"err":11.4},
      {"panel":"b","model":"BFRPRF","mission":"YUNYAO","h":52,"err":14.5},
      {"panel":"b","model":"BFRPRF","mission":"YUNYAO","h":53.9,"err":18.0},
      {"panel":"b","model":"BFRPRF","mission":"YUNYAO","h":55.2,"err":21.3},
      {"panel":"b","model":"BFRPRF","mission":"YUNYAO","h":56.4,"err":25.0},
      {"panel":"b","model":"BFRPRF","mission":"YUNYAO","h":57.7,"err":29},

      {"panel":"b","model":"BFRPRF","mission":"SPIRE","h":2.1,"err":6.0},
      {"panel":"b","model":"BFRPRF","mission":"SPIRE","h":2.5,"err":8.5},
      {"panel":"b","model":"BFRPRF","mission":"SPIRE","h":3.0,"err":11.0},
      {"panel":"b","model":"BFRPRF","mission":"SPIRE","h":3.5,"err":13.5},
      {"panel":"b","model":"BFRPRF","mission":"SPIRE","h":3.9,"err":12.0},
      {"panel":"b","model":"BFRPRF","mission":"SPIRE","h":4.5,"err":10.5},
      {"panel":"b","model":"BFRPRF","mission":"SPIRE","h":5.2,"err":9.0},
      {"panel":"b","model":"BFRPRF","mission":"SPIRE","h":6.2,"err":7.3},
      {"panel":"b","model":"BFRPRF","mission":"SPIRE","h":7.2,"err":5.6},
      {"panel":"b","model":"BFRPRF","mission":"SPIRE","h":8.3,"err":3.8},
      {"panel":"b","model":"BFRPRF","mission":"SPIRE","h":9.2,"err":2.5},
      {"panel":"b","model":"BFRPRF","mission":"SPIRE","h":9.8,"err":1.6},
      {"panel":"b","model":"BFRPRF","mission":"SPIRE","h":10.5,"err":1.2},
      {"panel":"b","model":"BFRPRF","mission":"SPIRE","h":11,"err":1.05},
      {"panel":"b","model":"BFRPRF","mission":"SPIRE","h":12,"err":0.98},
      {"panel":"b","model":"BFRPRF","mission":"SPIRE","h":14,"err":1.05},
      {"panel":"b","model":"BFRPRF","mission":"SPIRE","h":16,"err":1.25},
      {"panel":"b","model":"BFRPRF","mission":"SPIRE","h":17.5,"err":1.55},
      {"panel":"b","model":"BFRPRF","mission":"SPIRE","h":18.6,"err":2.0},
      {"panel":"b","model":"BFRPRF","mission":"SPIRE","h":19.4,"err":1.9},
      {"panel":"b","model":"BFRPRF","mission":"SPIRE","h":20.2,"err":1.3},
      {"panel":"b","model":"BFRPRF","mission":"SPIRE","h":21.2,"err":0.9},
      {"panel":"b","model":"BFRPRF","mission":"SPIRE","h":23,"err":0.82},
      {"panel":"b","model":"BFRPRF","mission":"SPIRE","h":25,"err":0.82},
      {"panel":"b","model":"BFRPRF","mission":"SPIRE","h":27.7,"err":0.93},
      {"panel":"b","model":"BFRPRF","mission":"SPIRE","h":30.3,"err":1.1},
      {"panel":"b","model":"BFRPRF","mission":"SPIRE","h":33,"err":1.42},
      {"panel":"b","model":"BFRPRF","mission":"SPIRE","h":35.7,"err":1.82},
      {"panel":"b","model":"BFRPRF","mission":"SPIRE","h":38.3,"err":2.42},
      {"panel":"b","model":"BFRPRF","mission":"SPIRE","h":41,"err":3.42},
      {"panel":"b","model":"BFRPRF","mission":"SPIRE","h":43.5,"err":5.3},
      {"panel":"b","model":"BFRPRF","mission":"SPIRE","h":46.1,"err":7.73},
      {"panel":"b","model":"BFRPRF","mission":"SPIRE","h":49.1,"err":11.4},
      {"panel":"b","model":"BFRPRF","mission":"SPIRE","h":51.1,"err":14.5},
      {"panel":"b","model":"BFRPRF","mission":"SPIRE","h":52.9,"err":18.0},
      {"panel":"b","model":"BFRPRF","mission":"SPIRE","h":54.3,"err":21.3},
      {"panel":"b","model":"BFRPRF","mission":"SPIRE","h":55.5,"err":25.0},
      {"panel":"b","model":"BFRPRF","mission":"SPIRE","h":56.8,"err":29},

      {"panel":"b","model":"ERA5","mission":"COSMIC2","h":2.1,"err":3.7},
      {"panel":"b","model":"ERA5","mission":"COSMIC2","h":2.5,"err":6.5},
      {"panel":"b","model":"ERA5","mission":"COSMIC2","h":3.0,"err":9.5},
      {"panel":"b","model":"ERA5","mission":"COSMIC2","h":3.3,"err":11.2},
      {"panel":"b","model":"ERA5","mission":"COSMIC2","h":3.58,"err":11.6},
      {"panel":"b","model":"ERA5","mission":"COSMIC2","h":3.85,"err":10.4},
      {"panel":"b","model":"ERA5","mission":"COSMIC2","h":4.4,"err":8.9},
      {"panel":"b","model":"ERA5","mission":"COSMIC2","h":5.17,"err":6.6},
      {"panel":"b","model":"ERA5","mission":"COSMIC2","h":6.2,"err":5.1},
      {"panel":"b","model":"ERA5","mission":"COSMIC2","h":7.8,"err":2.83},
      {"panel":"b","model":"ERA5","mission":"COSMIC2","h":9.15,"err":1.3},
      {"panel":"b","model":"ERA5","mission":"COSMIC2","h":10.2,"err":0.85},
      {"panel":"b","model":"ERA5","mission":"COSMIC2","h":11,"err":0.72},
      {"panel":"b","model":"ERA5","mission":"COSMIC2","h":12.5,"err":0.62},
      {"panel":"b","model":"ERA5","mission":"COSMIC2","h":14,"err":0.62},
      {"panel":"b","model":"ERA5","mission":"COSMIC2","h":16,"err":0.7},
      {"panel":"b","model":"ERA5","mission":"COSMIC2","h":17.5,"err":0.88},
      {"panel":"b","model":"ERA5","mission":"COSMIC2","h":18.5,"err":1.0},
      {"panel":"b","model":"ERA5","mission":"COSMIC2","h":19.5,"err":0.88},
      {"panel":"b","model":"ERA5","mission":"COSMIC2","h":20.5,"err":0.72},
      {"panel":"b","model":"ERA5","mission":"COSMIC2","h":21,"err":0.7},
      {"panel":"b","model":"ERA5","mission":"COSMIC2","h":23.7,"err":0.6},
      {"panel":"b","model":"ERA5","mission":"COSMIC2","h":26.3,"err":0.6},
      {"panel":"b","model":"ERA5","mission":"COSMIC2","h":29,"err":0.63},
      {"panel":"b","model":"ERA5","mission":"COSMIC2","h":31.7,"err":0.68},
      {"panel":"b","model":"ERA5","mission":"COSMIC2","h":34.3,"err":0.68},
      {"panel":"b","model":"ERA5","mission":"COSMIC2","h":37,"err":0.7},
      {"panel":"b","model":"ERA5","mission":"COSMIC2","h":39.7,"err":0.79},
      {"panel":"b","model":"ERA5","mission":"COSMIC2","h":42.3,"err":0.81},
      {"panel":"b","model":"ERA5","mission":"COSMIC2","h":45,"err":0.85},
      {"panel":"b","model":"ERA5","mission":"COSMIC2","h":47.7,"err":0.92},
      {"panel":"b","model":"ERA5","mission":"COSMIC2","h":50.3,"err":0.96},
      {"panel":"b","model":"ERA5","mission":"COSMIC2","h":53,"err":0.85},
      {"panel":"b","model":"ERA5","mission":"COSMIC2","h":55.7,"err":0.96},
      {"panel":"b","model":"ERA5","mission":"COSMIC2","h":58.3,"err":1.45},
      {"panel":"b","model":"ERA5","mission":"COSMIC2","h":59.8,"err":1.9},
      {"panel":"b","model":"ERA5","mission":"COSMIC2","h":60,"err":2.0},

      {"panel":"b","model":"ERA5","mission":"YUNYAO","h":2.1,"err":3.7},
      {"panel":"b","model":"ERA5","mission":"YUNYAO","h":2.5,"err":7.0},
      {"panel":"b","model":"ERA5","mission":"YUNYAO","h":2.9,"err":10.5},
      {"panel":"b","model":"ERA5","mission":"YUNYAO","h":3.3,"err":14.4},
      {"panel":"b","model":"ERA5","mission":"YUNYAO","h":3.6,"err":12.5},
      {"panel":"b","model":"ERA5","mission":"YUNYAO","h":3.9,"err":10.6},
      {"panel":"b","model":"ERA5","mission":"YUNYAO","h":4.5,"err":8.5},
      {"panel":"b","model":"ERA5","mission":"YUNYAO","h":5.3,"err":6.3},
      {"panel":"b","model":"ERA5","mission":"YUNYAO","h":6.3,"err":4.7},
      {"panel":"b","model":"ERA5","mission":"YUNYAO","h":7.8,"err":2.6},
      {"panel":"b","model":"ERA5","mission":"YUNYAO","h":9.1,"err":1.2},
      {"panel":"b","model":"ERA5","mission":"YUNYAO","h":10.2,"err":0.8},
      {"panel":"b","model":"ERA5","mission":"YUNYAO","h":11,"err":0.68},
      {"panel":"b","model":"ERA5","mission":"YUNYAO","h":12.5,"err":0.6},
      {"panel":"b","model":"ERA5","mission":"YUNYAO","h":14,"err":0.6},
      {"panel":"b","model":"ERA5","mission":"YUNYAO","h":16,"err":0.68},
      {"panel":"b","model":"ERA5","mission":"YUNYAO","h":17.5,"err":0.85},
      {"panel":"b","model":"ERA5","mission":"YUNYAO","h":18.5,"err":0.97},
      {"panel":"b","model":"ERA5","mission":"YUNYAO","h":19.5,"err":0.85},
      {"panel":"b","model":"ERA5","mission":"YUNYAO","h":20.5,"err":0.7},
      {"panel":"b","model":"ERA5","mission":"YUNYAO","h":21,"err":0.68},
      {"panel":"b","model":"ERA5","mission":"YUNYAO","h":23.7,"err":0.58},
      {"panel":"b","model":"ERA5","mission":"YUNYAO","h":26.3,"err":0.58},
      {"panel":"b","model":"ERA5","mission":"YUNYAO","h":29,"err":0.6},
      {"panel":"b","model":"ERA5","mission":"YUNYAO","h":31.7,"err":0.65},
      {"panel":"b","model":"ERA5","mission":"YUNYAO","h":34.3,"err":0.66},
      {"panel":"b","model":"ERA5","mission":"YUNYAO","h":37,"err":0.68},
      {"panel":"b","model":"ERA5","mission":"YUNYAO","h":39.7,"err":0.77},
      {"panel":"b","model":"ERA5","mission":"YUNYAO","h":42.3,"err":0.79},
      {"panel":"b","model":"ERA5","mission":"YUNYAO","h":45,"err":0.83},
      {"panel":"b","model":"ERA5","mission":"YUNYAO","h":47.7,"err":0.9},
      {"panel":"b","model":"ERA5","mission":"YUNYAO","h":50.3,"err":0.94},
      {"panel":"b","model":"ERA5","mission":"YUNYAO","h":53,"err":0.84},
      {"panel":"b","model":"ERA5","mission":"YUNYAO","h":55.7,"err":0.98},
      {"panel":"b","model":"ERA5","mission":"YUNYAO","h":58.3,"err":1.48},
      {"panel":"b","model":"ERA5","mission":"YUNYAO","h":59.8,"err":1.9},
      {"panel":"b","model":"ERA5","mission":"YUNYAO","h":60,"err":2.0},

      {"panel":"b","model":"ERA5","mission":"SPIRE","h":2.1,"err":3.6},
      {"panel":"b","model":"ERA5","mission":"SPIRE","h":2.5,"err":6.5},
      {"panel":"b","model":"ERA5","mission":"SPIRE","h":2.9,"err":9.5},
      {"panel":"b","model":"ERA5","mission":"SPIRE","h":3.3,"err":12.5},
      {"panel":"b","model":"ERA5","mission":"SPIRE","h":3.6,"err":11.8},
      {"panel":"b","model":"ERA5","mission":"SPIRE","h":3.9,"err":10.2},
      {"panel":"b","model":"ERA5","mission":"SPIRE","h":4.4,"err":8.6},
      {"panel":"b","model":"ERA5","mission":"SPIRE","h":5.2,"err":6.4},
      {"panel":"b","model":"ERA5","mission":"SPIRE","h":6.2,"err":4.9},
      {"panel":"b","model":"ERA5","mission":"SPIRE","h":7.8,"err":2.7},
      {"panel":"b","model":"ERA5","mission":"SPIRE","h":9.15,"err":1.25},
      {"panel":"b","model":"ERA5","mission":"SPIRE","h":10.2,"err":0.82},
      {"panel":"b","model":"ERA5","mission":"SPIRE","h":11,"err":0.7},
      {"panel":"b","model":"ERA5","mission":"SPIRE","h":12.5,"err":0.61},
      {"panel":"b","model":"ERA5","mission":"SPIRE","h":14,"err":0.61},
      {"panel":"b","model":"ERA5","mission":"SPIRE","h":16,"err":0.69},
      {"panel":"b","model":"ERA5","mission":"SPIRE","h":17.5,"err":0.86},
      {"panel":"b","model":"ERA5","mission":"SPIRE","h":18.5,"err":0.98},
      {"panel":"b","model":"ERA5","mission":"SPIRE","h":19.5,"err":0.86},
      {"panel":"b","model":"ERA5","mission":"SPIRE","h":20.5,"err":0.71},
      {"panel":"b","model":"ERA5","mission":"SPIRE","h":21,"err":0.69},
      {"panel":"b","model":"ERA5","mission":"SPIRE","h":23.7,"err":0.59},
      {"panel":"b","model":"ERA5","mission":"SPIRE","h":26.3,"err":0.59},
      {"panel":"b","model":"ERA5","mission":"SPIRE","h":29,"err":0.62},
      {"panel":"b","model":"ERA5","mission":"SPIRE","h":31.7,"err":0.67},
      {"panel":"b","model":"ERA5","mission":"SPIRE","h":34.3,"err":0.67},
      {"panel":"b","model":"ERA5","mission":"SPIRE","h":37,"err":0.69},
      {"panel":"b","model":"ERA5","mission":"SPIRE","h":39.7,"err":0.78},
      {"panel":"b","model":"ERA5","mission":"SPIRE","h":42.3,"err":0.8},
      {"panel":"b","model":"ERA5","mission":"SPIRE","h":45,"err":0.84},
      {"panel":"b","model":"ERA5","mission":"SPIRE","h":47.7,"err":0.91},
      {"panel":"b","model":"ERA5","mission":"SPIRE","h":50.3,"err":0.95},
      {"panel":"b","model":"ERA5","mission":"SPIRE","h":53,"err":0.85},
      {"panel":"b","model":"ERA5","mission":"SPIRE","h":55.7,"err":0.97},
      {"panel":"b","model":"ERA5","mission":"SPIRE","h":58.3,"err":1.46},
      {"panel":"b","model":"ERA5","mission":"SPIRE","h":59.8,"err":1.9},
      {"panel":"b","model":"ERA5","mission":"SPIRE","h":60,"err":2.0},

      {"panel":"b","model":"JRA3Q","mission":"COSMIC2","h":2.1,"err":4.0},
      {"panel":"b","model":"JRA3Q","mission":"COSMIC2","h":2.5,"err":8.0},
      {"panel":"b","model":"JRA3Q","mission":"COSMIC2","h":3.0,"err":14.0},
      {"panel":"b","model":"JRA3Q","mission":"COSMIC2","h":3.4,"err":19.0},
      {"panel":"b","model":"JRA3Q","mission":"COSMIC2","h":3.7,"err":21.0},
      {"panel":"b","model":"JRA3Q","mission":"COSMIC2","h":4.0,"err":18.0},
      {"panel":"b","model":"JRA3Q","mission":"COSMIC2","h":4.4,"err":15.0},
      {"panel":"b","model":"JRA3Q","mission":"COSMIC2","h":4.9,"err":11.9},
      {"panel":"b","model":"JRA3Q","mission":"COSMIC2","h":6.0,"err":8.9},
      {"panel":"b","model":"JRA3Q","mission":"COSMIC2","h":7.3,"err":5.9},
      {"panel":"b","model":"JRA3Q","mission":"COSMIC2","h":8.9,"err":2.8},
      {"panel":"b","model":"JRA3Q","mission":"COSMIC2","h":10.2,"err":1.15},
      {"panel":"b","model":"JRA3Q","mission":"COSMIC2","h":11,"err":0.9},
      {"panel":"b","model":"JRA3Q","mission":"COSMIC2","h":12.5,"err":0.82},
      {"panel":"b","model":"JRA3Q","mission":"COSMIC2","h":14,"err":0.9},
      {"panel":"b","model":"JRA3Q","mission":"COSMIC2","h":16,"err":1.05},
      {"panel":"b","model":"JRA3Q","mission":"COSMIC2","h":17.5,"err":1.4},
      {"panel":"b","model":"JRA3Q","mission":"COSMIC2","h":18.7,"err":1.8},
      {"panel":"b","model":"JRA3Q","mission":"COSMIC2","h":19.5,"err":1.7},
      {"panel":"b","model":"JRA3Q","mission":"COSMIC2","h":20.5,"err":1.3},
      {"panel":"b","model":"JRA3Q","mission":"COSMIC2","h":21,"err":1.23},
      {"panel":"b","model":"JRA3Q","mission":"COSMIC2","h":24,"err":1.05},
      {"panel":"b","model":"JRA3Q","mission":"COSMIC2","h":26.3,"err":1.0},
      {"panel":"b","model":"JRA3Q","mission":"COSMIC2","h":29,"err":1.07},
      {"panel":"b","model":"JRA3Q","mission":"COSMIC2","h":31.7,"err":1.12},
      {"panel":"b","model":"JRA3Q","mission":"COSMIC2","h":34.3,"err":1.29},
      {"panel":"b","model":"JRA3Q","mission":"COSMIC2","h":37,"err":1.34},
      {"panel":"b","model":"JRA3Q","mission":"COSMIC2","h":38.3,"err":1.34},
      {"panel":"b","model":"JRA3Q","mission":"COSMIC2","h":39.7,"err":1.45},
      {"panel":"b","model":"JRA3Q","mission":"COSMIC2","h":42.3,"err":1.5},
      {"panel":"b","model":"JRA3Q","mission":"COSMIC2","h":45,"err":1.67},
      {"panel":"b","model":"JRA3Q","mission":"COSMIC2","h":46.3,"err":1.56},
      {"panel":"b","model":"JRA3Q","mission":"COSMIC2","h":49,"err":1.4},
      {"panel":"b","model":"JRA3Q","mission":"COSMIC2","h":50.9,"err":1.73},
      {"panel":"b","model":"JRA3Q","mission":"COSMIC2","h":53,"err":2.28},
      {"panel":"b","model":"JRA3Q","mission":"COSMIC2","h":55.7,"err":2.06},
      {"panel":"b","model":"JRA3Q","mission":"COSMIC2","h":58.3,"err":1.62},
      {"panel":"b","model":"JRA3Q","mission":"COSMIC2","h":60,"err":1.6},

      {"panel":"b","model":"JRA3Q","mission":"YUNYAO","h":2.1,"err":4.0},
      {"panel":"b","model":"JRA3Q","mission":"YUNYAO","h":2.5,"err":9.0},
      {"panel":"b","model":"JRA3Q","mission":"YUNYAO","h":3.0,"err":15.5},
      {"panel":"b","model":"JRA3Q","mission":"YUNYAO","h":3.35,"err":20.0},
      {"panel":"b","model":"JRA3Q","mission":"YUNYAO","h":3.58,"err":23.2},
      {"panel":"b","model":"JRA3Q","mission":"YUNYAO","h":3.9,"err":19.0},
      {"panel":"b","model":"JRA3Q","mission":"YUNYAO","h":4.3,"err":15.5},
      {"panel":"b","model":"JRA3Q","mission":"YUNYAO","h":4.8,"err":12.0},
      {"panel":"b","model":"JRA3Q","mission":"YUNYAO","h":5.9,"err":8.5},
      {"panel":"b","model":"JRA3Q","mission":"YUNYAO","h":7.2,"err":5.5},
      {"panel":"b","model":"JRA3Q","mission":"YUNYAO","h":8.8,"err":2.6},
      {"panel":"b","model":"JRA3Q","mission":"YUNYAO","h":10.2,"err":1.05},
      {"panel":"b","model":"JRA3Q","mission":"YUNYAO","h":11,"err":0.85},
      {"panel":"b","model":"JRA3Q","mission":"YUNYAO","h":12.5,"err":0.78},
      {"panel":"b","model":"JRA3Q","mission":"YUNYAO","h":14,"err":0.86},
      {"panel":"b","model":"JRA3Q","mission":"YUNYAO","h":16,"err":1.0},
      {"panel":"b","model":"JRA3Q","mission":"YUNYAO","h":17.5,"err":1.35},
      {"panel":"b","model":"JRA3Q","mission":"YUNYAO","h":18.7,"err":1.75},
      {"panel":"b","model":"JRA3Q","mission":"YUNYAO","h":19.5,"err":1.65},
      {"panel":"b","model":"JRA3Q","mission":"YUNYAO","h":20.5,"err":1.25},
      {"panel":"b","model":"JRA3Q","mission":"YUNYAO","h":21,"err":1.18},
      {"panel":"b","model":"JRA3Q","mission":"YUNYAO","h":24,"err":1.0},
      {"panel":"b","model":"JRA3Q","mission":"YUNYAO","h":26.3,"err":0.96},
      {"panel":"b","model":"JRA3Q","mission":"YUNYAO","h":29,"err":1.02},
      {"panel":"b","model":"JRA3Q","mission":"YUNYAO","h":31.7,"err":1.06},
      {"panel":"b","model":"JRA3Q","mission":"YUNYAO","h":34.3,"err":1.2},
      {"panel":"b","model":"JRA3Q","mission":"YUNYAO","h":37,"err":1.24},
      {"panel":"b","model":"JRA3Q","mission":"YUNYAO","h":39.7,"err":1.36},
      {"panel":"b","model":"JRA3Q","mission":"YUNYAO","h":42.3,"err":1.42},
      {"panel":"b","model":"JRA3Q","mission":"YUNYAO","h":45,"err":1.55},
      {"panel":"b","model":"JRA3Q","mission":"YUNYAO","h":46.3,"err":1.48},
      {"panel":"b","model":"JRA3Q","mission":"YUNYAO","h":49,"err":1.35},
      {"panel":"b","model":"JRA3Q","mission":"YUNYAO","h":50.9,"err":1.6},
      {"panel":"b","model":"JRA3Q","mission":"YUNYAO","h":53,"err":2.12},
      {"panel":"b","model":"JRA3Q","mission":"YUNYAO","h":55.7,"err":2.0},
      {"panel":"b","model":"JRA3Q","mission":"YUNYAO","h":58.3,"err":1.6},
      {"panel":"b","model":"JRA3Q","mission":"YUNYAO","h":60,"err":1.55},

      {"panel":"b","model":"JRA3Q","mission":"SPIRE","h":2.1,"err":4.0},
      {"panel":"b","model":"JRA3Q","mission":"SPIRE","h":2.5,"err":8.5},
      {"panel":"b","model":"JRA3Q","mission":"SPIRE","h":3.0,"err":14.5},
      {"panel":"b","model":"JRA3Q","mission":"SPIRE","h":3.3,"err":18.5},
      {"panel":"b","model":"JRA3Q","mission":"SPIRE","h":3.5,"err":22.0},
      {"panel":"b","model":"JRA3Q","mission":"SPIRE","h":3.85,"err":18.5},
      {"panel":"b","model":"JRA3Q","mission":"SPIRE","h":4.3,"err":15.0},
      {"panel":"b","model":"JRA3Q","mission":"SPIRE","h":4.8,"err":11.8},
      {"panel":"b","model":"JRA3Q","mission":"SPIRE","h":5.9,"err":8.6},
      {"panel":"b","model":"JRA3Q","mission":"SPIRE","h":7.2,"err":5.6},
      {"panel":"b","model":"JRA3Q","mission":"SPIRE","h":8.8,"err":2.7},
      {"panel":"b","model":"JRA3Q","mission":"SPIRE","h":10.2,"err":1.1},
      {"panel":"b","model":"JRA3Q","mission":"SPIRE","h":11,"err":0.87},
      {"panel":"b","model":"JRA3Q","mission":"SPIRE","h":12.5,"err":0.8},
      {"panel":"b","model":"JRA3Q","mission":"SPIRE","h":14,"err":0.88},
      {"panel":"b","model":"JRA3Q","mission":"SPIRE","h":16,"err":1.02},
      {"panel":"b","model":"JRA3Q","mission":"SPIRE","h":17.5,"err":1.37},
      {"panel":"b","model":"JRA3Q","mission":"SPIRE","h":18.7,"err":1.77},
      {"panel":"b","model":"JRA3Q","mission":"SPIRE","h":19.5,"err":1.67},
      {"panel":"b","model":"JRA3Q","mission":"SPIRE","h":20.5,"err":1.27},
      {"panel":"b","model":"JRA3Q","mission":"SPIRE","h":21,"err":1.2},
      {"panel":"b","model":"JRA3Q","mission":"SPIRE","h":24,"err":1.02},
      {"panel":"b","model":"JRA3Q","mission":"SPIRE","h":26.3,"err":0.98},
      {"panel":"b","model":"JRA3Q","mission":"SPIRE","h":29,"err":1.04},
      {"panel":"b","model":"JRA3Q","mission":"SPIRE","h":31.7,"err":1.09},
      {"panel":"b","model":"JRA3Q","mission":"SPIRE","h":34.3,"err":1.24},
      {"panel":"b","model":"JRA3Q","mission":"SPIRE","h":37,"err":1.29},
      {"panel":"b","model":"JRA3Q","mission":"SPIRE","h":39.7,"err":1.4},
      {"panel":"b","model":"JRA3Q","mission":"SPIRE","h":42.3,"err":1.46},
      {"panel":"b","model":"JRA3Q","mission":"SPIRE","h":45,"err":1.6},
      {"panel":"b","model":"JRA3Q","mission":"SPIRE","h":46.3,"err":1.52},
      {"panel":"b","model":"JRA3Q","mission":"SPIRE","h":49,"err":1.37},
      {"panel":"b","model":"JRA3Q","mission":"SPIRE","h":50.9,"err":1.66},
      {"panel":"b","model":"JRA3Q","mission":"SPIRE","h":53,"err":2.2},
      {"panel":"b","model":"JRA3Q","mission":"SPIRE","h":55.7,"err":2.03},
      {"panel":"b","model":"JRA3Q","mission":"SPIRE","h":58.3,"err":1.61},
      {"panel":"b","model":"JRA3Q","mission":"SPIRE","h":60,"err":1.57}
    ],
    "count": [
      {"panel":"a","mission":"COSMIC2","h":2.0,"n":0},
      {"panel":"a","mission":"COSMIC2","h":2.27,"n":6850},
      {"panel":"a","mission":"COSMIC2","h":2.8,"n":119800},
      {"panel":"a","mission":"COSMIC2","h":3.3,"n":260200},
      {"panel":"a","mission":"COSMIC2","h":3.87,"n":387600},
      {"panel":"a","mission":"COSMIC2","h":4.4,"n":424600},
      {"panel":"a","mission":"COSMIC2","h":5.47,"n":443000},
      {"panel":"a","mission":"COSMIC2","h":10,"n":448500},
      {"panel":"a","mission":"COSMIC2","h":59.7,"n":452000},
      {"panel":"a","mission":"COSMIC2","h":59.75,"n":0},
      {"panel":"a","mission":"YUNYAO","h":2.0,"n":0},
      {"panel":"a","mission":"YUNYAO","h":2.27,"n":8900},
      {"panel":"a","mission":"YUNYAO","h":2.8,"n":92400},
      {"panel":"a","mission":"YUNYAO","h":3.3,"n":193800},
      {"panel":"a","mission":"YUNYAO","h":3.9,"n":332100},
      {"panel":"a","mission":"YUNYAO","h":4.4,"n":415000},
      {"panel":"a","mission":"YUNYAO","h":4.9,"n":445100},
      {"panel":"a","mission":"YUNYAO","h":5.5,"n":472500},
      {"panel":"a","mission":"YUNYAO","h":6.0,"n":493100},
      {"panel":"a","mission":"YUNYAO","h":7.0,"n":506800},
      {"panel":"a","mission":"YUNYAO","h":10.1,"n":512200},
      {"panel":"a","mission":"YUNYAO","h":10.9,"n":535500},
      {"panel":"a","mission":"YUNYAO","h":59.7,"n":535500},
      {"panel":"a","mission":"YUNYAO","h":59.75,"n":0},
      {"panel":"a","mission":"SPIRE","h":2.0,"n":0},
      {"panel":"a","mission":"SPIRE","h":2.05,"n":34200},
      {"panel":"a","mission":"SPIRE","h":2.45,"n":342400},
      {"panel":"a","mission":"SPIRE","h":2.85,"n":684800},
      {"panel":"a","mission":"SPIRE","h":3.25,"n":1027200},
      {"panel":"a","mission":"SPIRE","h":3.6,"n":1335400},
      {"panel":"a","mission":"SPIRE","h":3.85,"n":1403800},
      {"panel":"a","mission":"SPIRE","h":4.3,"n":1472300},
      {"panel":"a","mission":"SPIRE","h":5.0,"n":1527100},
      {"panel":"a","mission":"SPIRE","h":6.0,"n":1547600},
      {"panel":"a","mission":"SPIRE","h":7.0,"n":1554500},
      {"panel":"a","mission":"SPIRE","h":59.7,"n":1557900},
      {"panel":"a","mission":"SPIRE","h":59.75,"n":0},
      {"panel":"b","mission":"COSMIC2","h":2.0,"n":0},
      {"panel":"b","mission":"COSMIC2","h":2.25,"n":9000},
      {"panel":"b","mission":"COSMIC2","h":2.57,"n":105400},
      {"panel":"b","mission":"COSMIC2","h":3.05,"n":278500},
      {"panel":"b","mission":"COSMIC2","h":3.6,"n":391500},
      {"panel":"b","mission":"COSMIC2","h":4.1,"n":425300},
      {"panel":"b","mission":"COSMIC2","h":4.9,"n":444200},
      {"panel":"b","mission":"COSMIC2","h":6.5,"n":449800},
      {"panel":"b","mission":"COSMIC2","h":59.7,"n":449800},
      {"panel":"b","mission":"COSMIC2","h":59.75,"n":0},
      {"panel":"b","mission":"YUNYAO","h":2.0,"n":0},
      {"panel":"b","mission":"YUNYAO","h":2.25,"n":3800},
      {"panel":"b","mission":"YUNYAO","h":2.65,"n":20700},
      {"panel":"b","mission":"YUNYAO","h":3.3,"n":77900},
      {"panel":"b","mission":"YUNYAO","h":4.1,"n":163700},
      {"panel":"b","mission":"YUNYAO","h":5.17,"n":232200},
      {"panel":"b","mission":"YUNYAO","h":6.5,"n":260800},
      {"panel":"b","mission":"YUNYAO","h":7.6,"n":269500},
      {"panel":"b","mission":"YUNYAO","h":10.2,"n":272100},
      {"panel":"b","mission":"YUNYAO","h":11.0,"n":289500},
      {"panel":"b","mission":"YUNYAO","h":59.7,"n":289500},
      {"panel":"b","mission":"YUNYAO","h":59.75,"n":0},
      {"panel":"b","mission":"SPIRE","h":2.0,"n":0},
      {"panel":"b","mission":"SPIRE","h":2.1,"n":3800},
      {"panel":"b","mission":"SPIRE","h":2.73,"n":278500},
      {"panel":"b","mission":"SPIRE","h":3.2,"n":564600},
      {"panel":"b","mission":"SPIRE","h":3.7,"n":764100},
      {"panel":"b","mission":"SPIRE","h":4.06,"n":809300},
      {"panel":"b","mission":"SPIRE","h":4.4,"n":831800},
      {"panel":"b","mission":"SPIRE","h":4.9,"n":849900},
      {"panel":"b","mission":"SPIRE","h":7.0,"n":856300},
      {"panel":"b","mission":"SPIRE","h":59.7,"n":860100},
      {"panel":"b","mission":"SPIRE","h":59.75,"n":0}
    ],
    "ticks": [
      {"model":"JRA3Q","h":2.25,"lo":0.27,"hi":0.74},{"model":"JRA3Q","h":2.5,"lo":0.27,"hi":0.74},{"model":"JRA3Q","h":2.75,"lo":0.27,"hi":0.74},{"model":"JRA3Q","h":3.0,"lo":0.27,"hi":0.74},
      {"model":"JRA3Q","h":3.25,"lo":0.27,"hi":0.74},{"model":"JRA3Q","h":3.5,"lo":0.27,"hi":0.74},{"model":"JRA3Q","h":3.75,"lo":0.27,"hi":0.74},{"model":"JRA3Q","h":4.0,"lo":0.27,"hi":0.74},
      {"model":"JRA3Q","h":4.25,"lo":0.27,"hi":0.74},{"model":"JRA3Q","h":4.5,"lo":0.27,"hi":0.74},{"model":"JRA3Q","h":4.75,"lo":0.27,"hi":0.74},{"model":"JRA3Q","h":5.0,"lo":0.27,"hi":0.74},
      {"model":"JRA3Q","h":5.25,"lo":0.27,"hi":0.74},{"model":"JRA3Q","h":5.5,"lo":0.27,"hi":0.74},{"model":"JRA3Q","h":5.75,"lo":0.27,"hi":0.74},{"model":"JRA3Q","h":6.0,"lo":0.27,"hi":0.74},
      {"model":"JRA3Q","h":6.25,"lo":0.27,"hi":0.74},{"model":"JRA3Q","h":6.5,"lo":0.27,"hi":0.74},{"model":"JRA3Q","h":6.75,"lo":0.27,"hi":0.74},{"model":"JRA3Q","h":7.0,"lo":0.27,"hi":0.74},
      {"model":"JRA3Q","h":7.25,"lo":0.27,"hi":0.74},{"model":"JRA3Q","h":7.5,"lo":0.27,"hi":0.74},{"model":"JRA3Q","h":7.75,"lo":0.27,"hi":0.74},{"model":"JRA3Q","h":8.0,"lo":0.27,"hi":0.74},
      {"model":"JRA3Q","h":8.25,"lo":0.27,"hi":0.74},{"model":"JRA3Q","h":8.5,"lo":0.27,"hi":0.74},{"model":"JRA3Q","h":8.75,"lo":0.27,"hi":0.74},{"model":"JRA3Q","h":9.0,"lo":0.27,"hi":0.74},
      {"model":"JRA3Q","h":9.25,"lo":0.27,"hi":0.74},{"model":"JRA3Q","h":9.5,"lo":0.27,"hi":0.74},{"model":"JRA3Q","h":9.75,"lo":0.27,"hi":0.74},{"model":"JRA3Q","h":10.0,"lo":0.27,"hi":0.74},
      {"model":"JRA3Q","h":10.9,"lo":0.5,"hi":0.78},{"model":"JRA3Q","h":11.8,"lo":0.5,"hi":0.78},{"model":"JRA3Q","h":12.7,"lo":0.5,"hi":0.78},{"model":"JRA3Q","h":13.6,"lo":0.5,"hi":0.78},
      {"model":"JRA3Q","h":14.5,"lo":0.5,"hi":0.78},{"model":"JRA3Q","h":15.4,"lo":0.5,"hi":0.78},{"model":"JRA3Q","h":16.3,"lo":0.5,"hi":0.78},{"model":"JRA3Q","h":17.2,"lo":0.5,"hi":0.78},
      {"model":"JRA3Q","h":18.1,"lo":0.5,"hi":0.78},{"model":"JRA3Q","h":19.0,"lo":0.5,"hi":0.78},{"model":"JRA3Q","h":19.9,"lo":0.5,"hi":0.78},{"model":"JRA3Q","h":21.3,"lo":0.5,"hi":0.78},
      {"model":"JRA3Q","h":22.8,"lo":0.5,"hi":0.78},{"model":"JRA3Q","h":24.2,"lo":0.5,"hi":0.78},{"model":"JRA3Q","h":25.7,"lo":0.5,"hi":0.78},{"model":"JRA3Q","h":27.1,"lo":0.5,"hi":0.78},
      {"model":"JRA3Q","h":28.6,"lo":0.5,"hi":0.78},{"model":"JRA3Q","h":30.6,"lo":0.5,"hi":0.78},{"model":"JRA3Q","h":32.6,"lo":0.5,"hi":0.78},{"model":"JRA3Q","h":34.6,"lo":0.5,"hi":0.78},
      {"model":"JRA3Q","h":36.6,"lo":0.5,"hi":0.78},{"model":"JRA3Q","h":38.6,"lo":0.5,"hi":0.78},{"model":"JRA3Q","h":41.2,"lo":0.5,"hi":0.78},{"model":"JRA3Q","h":43.8,"lo":0.5,"hi":0.78},
      {"model":"JRA3Q","h":46.4,"lo":0.5,"hi":0.78},{"model":"JRA3Q","h":49.0,"lo":0.5,"hi":0.78},{"model":"JRA3Q","h":52.2,"lo":0.5,"hi":0.78},{"model":"JRA3Q","h":55.4,"lo":0.5,"hi":0.78},
      {"model":"JRA3Q","h":58.6,"lo":0.5,"hi":0.78},
      {"model":"ERA5","h":2.35,"lo":0,"hi":0.6},{"model":"ERA5","h":2.6,"lo":0,"hi":0.6},{"model":"ERA5","h":2.85,"lo":0,"hi":0.6},{"model":"ERA5","h":3.1,"lo":0,"hi":0.6},
      {"model":"ERA5","h":3.35,"lo":0,"hi":0.6},{"model":"ERA5","h":3.6,"lo":0,"hi":0.6},{"model":"ERA5","h":3.85,"lo":0,"hi":0.6},{"model":"ERA5","h":4.1,"lo":0,"hi":0.6},
      {"model":"ERA5","h":4.35,"lo":0,"hi":0.6},{"model":"ERA5","h":4.6,"lo":0,"hi":0.6},{"model":"ERA5","h":4.85,"lo":0,"hi":0.6},{"model":"ERA5","h":5.1,"lo":0,"hi":0.6},
      {"model":"ERA5","h":5.35,"lo":0,"hi":0.6},{"model":"ERA5","h":5.6,"lo":0,"hi":0.6},{"model":"ERA5","h":5.85,"lo":0,"hi":0.6},{"model":"ERA5","h":6.1,"lo":0,"hi":0.6},
      {"model":"ERA5","h":6.35,"lo":0,"hi":0.6},{"model":"ERA5","h":6.6,"lo":0,"hi":0.6},{"model":"ERA5","h":6.85,"lo":0,"hi":0.6},{"model":"ERA5","h":7.1,"lo":0,"hi":0.6},
      {"model":"ERA5","h":7.35,"lo":0,"hi":0.6},{"model":"ERA5","h":7.6,"lo":0,"hi":0.6},{"model":"ERA5","h":7.85,"lo":0,"hi":0.6},{"model":"ERA5","h":8.1,"lo":0,"hi":0.6},
      {"model":"ERA5","h":8.35,"lo":0,"hi":0.6},{"model":"ERA5","h":8.6,"lo":0,"hi":0.6},{"model":"ERA5","h":8.85,"lo":0,"hi":0.6},{"model":"ERA5","h":9.1,"lo":0,"hi":0.6},
      {"model":"ERA5","h":9.35,"lo":0,"hi":0.6},{"model":"ERA5","h":9.6,"lo":0,"hi":0.6},{"model":"ERA5","h":9.85,"lo":0,"hi":0.6},
      {"model":"ERA5","h":10.6,"lo":0.27,"hi":0.52},{"model":"ERA5","h":11.2,"lo":0.27,"hi":0.52},{"model":"ERA5","h":11.8,"lo":0.27,"hi":0.52},{"model":"ERA5","h":12.4,"lo":0.27,"hi":0.52},
      {"model":"ERA5","h":13.0,"lo":0.27,"hi":0.52},{"model":"ERA5","h":13.6,"lo":0.27,"hi":0.52},{"model":"ERA5","h":14.2,"lo":0.27,"hi":0.52},{"model":"ERA5","h":14.8,"lo":0.27,"hi":0.52},
      {"model":"ERA5","h":15.4,"lo":0.27,"hi":0.52},{"model":"ERA5","h":16.0,"lo":0.27,"hi":0.52},{"model":"ERA5","h":16.6,"lo":0.27,"hi":0.52},{"model":"ERA5","h":17.2,"lo":0.27,"hi":0.52},
      {"model":"ERA5","h":17.8,"lo":0.27,"hi":0.52},{"model":"ERA5","h":18.4,"lo":0.27,"hi":0.52},{"model":"ERA5","h":19.0,"lo":0.27,"hi":0.52},{"model":"ERA5","h":19.6,"lo":0.27,"hi":0.52},
      {"model":"ERA5","h":20.6,"lo":0.27,"hi":0.52},{"model":"ERA5","h":21.6,"lo":0.27,"hi":0.52},{"model":"ERA5","h":22.6,"lo":0.27,"hi":0.52},{"model":"ERA5","h":23.6,"lo":0.27,"hi":0.52},
      {"model":"ERA5","h":24.6,"lo":0.27,"hi":0.52},{"model":"ERA5","h":25.6,"lo":0.27,"hi":0.52},{"model":"ERA5","h":26.6,"lo":0.27,"hi":0.52},{"model":"ERA5","h":27.6,"lo":0.27,"hi":0.52},
      {"model":"ERA5","h":28.6,"lo":0.27,"hi":0.52},{"model":"ERA5","h":29.6,"lo":0.27,"hi":0.52},{"model":"ERA5","h":30.9,"lo":0.27,"hi":0.52},{"model":"ERA5","h":32.2,"lo":0.27,"hi":0.52},
      {"model":"ERA5","h":33.5,"lo":0.27,"hi":0.52},{"model":"ERA5","h":34.8,"lo":0.27,"hi":0.52},{"model":"ERA5","h":36.1,"lo":0.27,"hi":0.52},{"model":"ERA5","h":37.4,"lo":0.27,"hi":0.52},
      {"model":"ERA5","h":38.7,"lo":0.27,"hi":0.52},{"model":"ERA5","h":40.0,"lo":0.27,"hi":0.52},{"model":"ERA5","h":41.6,"lo":0.27,"hi":0.52},{"model":"ERA5","h":43.2,"lo":0.27,"hi":0.52},
      {"model":"ERA5","h":44.8,"lo":0.27,"hi":0.52},{"model":"ERA5","h":46.4,"lo":0.27,"hi":0.52},{"model":"ERA5","h":48.0,"lo":0.27,"hi":0.52},{"model":"ERA5","h":49.6,"lo":0.27,"hi":0.52},
      {"model":"ERA5","h":51.5,"lo":0.27,"hi":0.52},{"model":"ERA5","h":53.4,"lo":0.27,"hi":0.52},{"model":"ERA5","h":55.3,"lo":0.27,"hi":0.52},{"model":"ERA5","h":57.2,"lo":0.27,"hi":0.52},
      {"model":"ERA5","h":59.1,"lo":0.27,"hi":0.52},
      {"model":"BFRPRF","h":2.3,"lo":0,"hi":0.3},{"model":"BFRPRF","h":2.8,"lo":0,"hi":0.3},{"model":"BFRPRF","h":3.3,"lo":0,"hi":0.3},{"model":"BFRPRF","h":3.8,"lo":0,"hi":0.3},
      {"model":"BFRPRF","h":4.3,"lo":0,"hi":0.3},{"model":"BFRPRF","h":4.8,"lo":0,"hi":0.3},{"model":"BFRPRF","h":5.3,"lo":0,"hi":0.3},{"model":"BFRPRF","h":5.8,"lo":0,"hi":0.3},
      {"model":"BFRPRF","h":6.3,"lo":0,"hi":0.3},{"model":"BFRPRF","h":6.8,"lo":0,"hi":0.3},{"model":"BFRPRF","h":7.3,"lo":0,"hi":0.3},{"model":"BFRPRF","h":7.8,"lo":0,"hi":0.3},
      {"model":"BFRPRF","h":8.3,"lo":0,"hi":0.3},{"model":"BFRPRF","h":8.8,"lo":0,"hi":0.3},{"model":"BFRPRF","h":9.3,"lo":0,"hi":0.3},{"model":"BFRPRF","h":9.8,"lo":0,"hi":0.3},
      {"model":"BFRPRF","h":10.3,"lo":0,"hi":0.3},{"model":"BFRPRF","h":10.8,"lo":0,"hi":0.3},{"model":"BFRPRF","h":11.3,"lo":0,"hi":0.3},{"model":"BFRPRF","h":11.8,"lo":0,"hi":0.3},
      {"model":"BFRPRF","h":12.3,"lo":0,"hi":0.3},{"model":"BFRPRF","h":12.8,"lo":0,"hi":0.3},{"model":"BFRPRF","h":13.3,"lo":0,"hi":0.3},{"model":"BFRPRF","h":13.8,"lo":0,"hi":0.3},
      {"model":"BFRPRF","h":14.3,"lo":0,"hi":0.3},{"model":"BFRPRF","h":14.8,"lo":0,"hi":0.3},{"model":"BFRPRF","h":15.3,"lo":0,"hi":0.3},{"model":"BFRPRF","h":15.8,"lo":0,"hi":0.3},
      {"model":"BFRPRF","h":16.3,"lo":0,"hi":0.3},{"model":"BFRPRF","h":16.8,"lo":0,"hi":0.3},{"model":"BFRPRF","h":17.3,"lo":0,"hi":0.3},{"model":"BFRPRF","h":17.8,"lo":0,"hi":0.3},
      {"model":"BFRPRF","h":18.3,"lo":0,"hi":0.3},{"model":"BFRPRF","h":18.8,"lo":0,"hi":0.3},{"model":"BFRPRF","h":19.3,"lo":0,"hi":0.3},{"model":"BFRPRF","h":19.8,"lo":0,"hi":0.3},
      {"model":"BFRPRF","h":20.3,"lo":0,"hi":0.3},{"model":"BFRPRF","h":20.8,"lo":0,"hi":0.3},{"model":"BFRPRF","h":21.3,"lo":0,"hi":0.3},{"model":"BFRPRF","h":21.8,"lo":0,"hi":0.3},
      {"model":"BFRPRF","h":22.3,"lo":0,"hi":0.3},{"model":"BFRPRF","h":22.8,"lo":0,"hi":0.3},{"model":"BFRPRF","h":23.3,"lo":0,"hi":0.3},{"model":"BFRPRF","h":23.8,"lo":0,"hi":0.3},
      {"model":"BFRPRF","h":24.3,"lo":0,"hi":0.3},{"model":"BFRPRF","h":24.8,"lo":0,"hi":0.3},{"model":"BFRPRF","h":25.3,"lo":0,"hi":0.3},{"model":"BFRPRF","h":25.8,"lo":0,"hi":0.3},
      {"model":"BFRPRF","h":26.3,"lo":0,"hi":0.3},{"model":"BFRPRF","h":26.8,"lo":0,"hi":0.3},{"model":"BFRPRF","h":27.3,"lo":0,"hi":0.3},{"model":"BFRPRF","h":27.8,"lo":0,"hi":0.3},
      {"model":"BFRPRF","h":28.3,"lo":0,"hi":0.3},{"model":"BFRPRF","h":28.8,"lo":0,"hi":0.3},{"model":"BFRPRF","h":29.3,"lo":0,"hi":0.3},{"model":"BFRPRF","h":29.8,"lo":0,"hi":0.3},
      {"model":"BFRPRF","h":30.3,"lo":0,"hi":0.3},{"model":"BFRPRF","h":30.8,"lo":0,"hi":0.3},{"model":"BFRPRF","h":31.3,"lo":0,"hi":0.3},{"model":"BFRPRF","h":31.8,"lo":0,"hi":0.3},
      {"model":"BFRPRF","h":32.3,"lo":0,"hi":0.3},{"model":"BFRPRF","h":32.8,"lo":0,"hi":0.3},{"model":"BFRPRF","h":33.3,"lo":0,"hi":0.3},{"model":"BFRPRF","h":33.8,"lo":0,"hi":0.3},
      {"model":"BFRPRF","h":34.3,"lo":0,"hi":0.3},{"model":"BFRPRF","h":34.8,"lo":0,"hi":0.3},{"model":"BFRPRF","h":35.3,"lo":0,"hi":0.3},{"model":"BFRPRF","h":35.8,"lo":0,"hi":0.3},
      {"model":"BFRPRF","h":36.3,"lo":0,"hi":0.3},{"model":"BFRPRF","h":36.8,"lo":0,"hi":0.3},{"model":"BFRPRF","h":37.3,"lo":0,"hi":0.3},{"model":"BFRPRF","h":37.8,"lo":0,"hi":0.3},
      {"model":"BFRPRF","h":38.3,"lo":0,"hi":0.3},{"model":"BFRPRF","h":38.8,"lo":0,"hi":0.3},{"model":"BFRPRF","h":39.3,"lo":0,"hi":0.3},{"model":"BFRPRF","h":39.8,"lo":0,"hi":0.3},
      {"model":"BFRPRF","h":40.3,"lo":0,"hi":0.3},{"model":"BFRPRF","h":40.8,"lo":0,"hi":0.3},{"model":"BFRPRF","h":41.3,"lo":0,"hi":0.3},{"model":"BFRPRF","h":41.8,"lo":0,"hi":0.3},
      {"model":"BFRPRF","h":42.3,"lo":0,"hi":0.3},{"model":"BFRPRF","h":42.8,"lo":0,"hi":0.3},{"model":"BFRPRF","h":43.3,"lo":0,"hi":0.3},{"model":"BFRPRF","h":43.8,"lo":0,"hi":0.3},
      {"model":"BFRPRF","h":44.3,"lo":0,"hi":0.3},{"model":"BFRPRF","h":44.8,"lo":0,"hi":0.3},{"model":"BFRPRF","h":45.3,"lo":0,"hi":0.3},{"model":"BFRPRF","h":45.8,"lo":0,"hi":0.3},
      {"model":"BFRPRF","h":46.3,"lo":0,"hi":0.3},{"model":"BFRPRF","h":46.8,"lo":0,"hi":0.3},{"model":"BFRPRF","h":47.3,"lo":0,"hi":0.3},{"model":"BFRPRF","h":47.8,"lo":0,"hi":0.3},
      {"model":"BFRPRF","h":48.3,"lo":0,"hi":0.3},{"model":"BFRPRF","h":48.8,"lo":0,"hi":0.3},{"model":"BFRPRF","h":49.3,"lo":0,"hi":0.3},{"model":"BFRPRF","h":49.8,"lo":0,"hi":0.3},
      {"model":"BFRPRF","h":50.3,"lo":0,"hi":0.3},{"model":"BFRPRF","h":50.8,"lo":0,"hi":0.3},{"model":"BFRPRF","h":51.3,"lo":0,"hi":0.3},{"model":"BFRPRF","h":51.8,"lo":0,"hi":0.3},
      {"model":"BFRPRF","h":52.3,"lo":0,"hi":0.3},{"model":"BFRPRF","h":52.8,"lo":0,"hi":0.3},{"model":"BFRPRF","h":53.3,"lo":0,"hi":0.3},{"model":"BFRPRF","h":53.8,"lo":0,"hi":0.3},
      {"model":"BFRPRF","h":54.3,"lo":0,"hi":0.3},{"model":"BFRPRF","h":54.8,"lo":0,"hi":0.3},{"model":"BFRPRF","h":55.3,"lo":0,"hi":0.3},{"model":"BFRPRF","h":55.8,"lo":0,"hi":0.3},
      {"model":"BFRPRF","h":56.3,"lo":0,"hi":0.3},{"model":"BFRPRF","h":56.8,"lo":0,"hi":0.3},{"model":"BFRPRF","h":57.3,"lo":0,"hi":0.3},{"model":"BFRPRF","h":57.8,"lo":0,"hi":0.3},
      {"model":"BFRPRF","h":58.3,"lo":0,"hi":0.3},{"model":"BFRPRF","h":58.8,"lo":0,"hi":0.3},{"model":"BFRPRF","h":59.3,"lo":0,"hi":0.3},{"model":"BFRPRF","h":59.8,"lo":0,"hi":0.3}
    ]
  },
  "hconcat": [
    {
      "width": 757,
      "height": 754,
      "layer": [
        {
          "layer": [
            {
              "data": {"name": "ticks"},
              "mark": {"type": "rule", "strokeWidth": 1.6, "opacity": 0.75},
              "encoding": {
                "x": {"field": "lo", "type": "quantitative", "scale": {"domain": [0, 25]},
                      "axis": {"orient": "bottom", "values": [0, 5, 10, 15, 20, 25], "title": "Error std dev [%]", "labelFontSize": 27, "labelFontWeight": "bold", "tickSize": 15, "tickWidth": 3, "labelPadding": 5, "titleFontSize": 41, "titleFontWeight": "normal", "titlePadding": 6, "labelFlush": false, "labelOverlap": false}},
                "x2": {"field": "hi"},
                "y": {"field": "h", "type": "quantitative", "scale": {"domain": [0, 60]},
                      "axis": {"values": [0, 10, 20, 30, 40, 50, 60], "title": "Impact Height [km]", "labelFontSize": 27, "labelFontWeight": "bold", "tickSize": 15, "tickWidth": 3, "labelPadding": 0, "titleFontSize": 42.5, "titleFontWeight": "normal", "titlePadding": 10, "labelFlush": false, "labelOverlap": false}},
                "color": {"field": "model", "type": "nominal",
                          "scale": {"domain": ["BFRPRF", "ERA5", "JRA3Q"], "range": ["#d8322f", "#3b45a7", "#8dc577"]},
                          "legend": {"orient": "none", "legendX": 100, "legendY": 7, "title": null, "padding": 0, "symbolSize": 0, "symbolOpacity": 0, "symbolStrokeWidth": 0, "labelOffset": 0, "labelFontSize": 22, "labelFontWeight": "bold", "rowPadding": 3,
                                     "encode": {"labels": {"update": {"fill": {"signal": "datum.value === 'BFRPRF' ? '#d8322f' : datum.value === 'ERA5' ? '#3b45a7' : '#8dc577'"}}}}}}
              }
            },
            {
              "data": {"name": "prof"},
              "transform": [{"filter": "datum.panel === 'a' && datum.mission === 'YUNYAO'"}],
              "mark": {"type": "line", "strokeWidth": 3.5, "strokeDash": [13, 5.6], "clip": true, "opacity": 0.95, "interpolate": "catmull-rom"},
              "encoding": {
                "x": {"field": "err", "type": "quantitative", "scale": {"domain": [0, 25]}},
                "y": {"field": "h", "type": "quantitative", "scale": {"domain": [0, 60]}},
                "color": {"field": "model", "type": "nominal"},
                "order": {"field": "h"}
              }
            },
            {
              "data": {"name": "prof"},
              "transform": [{"filter": "datum.panel === 'a' && datum.mission === 'SPIRE'"}],
              "mark": {"type": "line", "strokeWidth": 3.5, "strokeDash": [22, 5.6, 3.5, 5.6], "clip": true, "opacity": 0.95, "interpolate": "catmull-rom"},
              "encoding": {
                "x": {"field": "err", "type": "quantitative", "scale": {"domain": [0, 25]}},
                "y": {"field": "h", "type": "quantitative", "scale": {"domain": [0, 60]}},
                "color": {"field": "model", "type": "nominal"},
                "order": {"field": "h"}
              }
            },
            {
              "data": {"name": "prof"},
              "transform": [{"filter": "datum.panel === 'a' && datum.mission === 'COSMIC2'"}],
              "mark": {"type": "line", "strokeWidth": 3.5, "clip": true, "opacity": 0.95, "interpolate": "catmull-rom"},
              "encoding": {
                "x": {"field": "err", "type": "quantitative", "scale": {"domain": [0, 25]}},
                "y": {"field": "h", "type": "quantitative", "scale": {"domain": [0, 60]}},
                "color": {"field": "model", "type": "nominal"},
                "order": {"field": "h"}
              }
            },
            {
              "data": {"values": [{"label": "a"}]},
              "mark": {"type": "text", "fontSize": 28, "color": "black", "align": "center", "baseline": "middle"},
              "encoding": {
                "x": {"datum": -2.97, "type": "quantitative", "scale": {"domain": [0, 25]}},
                "y": {"datum": 67.0, "type": "quantitative", "scale": {"domain": [0, 60]}},
                "text": {"field": "label"}
              }
            },
            {
              "data": {"values": [{}]},
              "mark": {"type": "text", "fontSize": 26.5, "color": "black", "align": "center", "baseline": "middle", "lineHeight": 30,
                       "text": ["Bending angle normalized 3CH error std dev", "COSMIC2,SPIRE,YUNYAO | September-November 2022, All Points"]},
              "encoding": {
                "x": {"datum": 12.5, "type": "quantitative", "scale": {"domain": [0, 25]}},
                "y": {"datum": 67.0, "type": "quantitative", "scale": {"domain": [0, 60]}}
              }
            }
          ]
        },
        {
          "data": {"name": "count"},
          "transform": [{"filter": "datum.panel === 'a'"}],
          "mark": {"type": "line", "color": "#808080", "strokeWidth": 1.3},
          "encoding": {
            "x": {"field": "n", "type": "quantitative", "scale": {"domain": [0, 1712000]},
                  "axis": {"orient": "top", "values": [0, 500000, 1000000, 1500000], "format": "d", "title": null, "labelFontSize": 29, "labelFontWeight": "bold", "tickSize": 6, "tickWidth": 1.5, "labelPadding": 8, "labelFlush": false, "labelOverlap": false}},
            "y": {"field": "h", "type": "quantitative", "scale": {"domain": [0, 60]}},
            "strokeDash": {"field": "mission", "type": "nominal",
                           "scale": {"domain": ["COSMIC2", "YUNYAO", "SPIRE"], "range": [[1, 0], [4.4, 1.9], [7.7, 1.9, 1.2, 1.9]]},
                           "legend": {"orient": "none", "legendX": 577, "legendY": 325, "title": null, "padding": 8, "symbolType": "M-1.9,0H1.9", "symbolSize": 576, "symbolStrokeWidth": 1.5, "symbolStrokeColor": "#808080", "symbolFillColor": "transparent", "labelOffset": 27, "labelFontSize": 20, "labelFontWeight": "bold", "rowPadding": 6, "fillColor": "white", "strokeColor": "#cccccc", "cornerRadius": 5}},
            "order": {"field": "h"}
          }
        },
        {
          "data": {"values": [{}]},
          "mark": {"type": "rule", "opacity": 0},
          "encoding": {
            "x": {"datum": 0, "type": "quantitative", "scale": {"domain": [0, 1712000]},
                  "axis": {"orient": "top", "values": [100000, 200000, 300000, 400000, 600000, 700000, 800000, 900000, 1100000, 1200000, 1300000, 1400000, 1600000, 1700000], "labels": false, "title": null, "tickSize": 4, "tickWidth": 1}}
          }
        }
      ],
      "resolve": {"scale": {"x": "independent"}}
    },
    {
      "width": 757,
      "height": 754,
      "layer": [
        {
          "layer": [
            {
              "data": {"name": "ticks"},
              "mark": {"type": "rule", "strokeWidth": 1.6, "opacity": 0.75},
              "encoding": {
                "x": {"field": "lo", "type": "quantitative", "scale": {"domain": [0, 25]},
                      "axis": {"orient": "bottom", "values": [0, 5, 10, 15, 20, 25], "title": "Error std dev [%]", "labelFontSize": 27, "labelFontWeight": "bold", "tickSize": 15, "tickWidth": 3, "labelPadding": 5, "titleFontSize": 41, "titleFontWeight": "normal", "titlePadding": 6, "labelFlush": false, "labelOverlap": false}},
                "x2": {"field": "hi"},
                "y": {"field": "h", "type": "quantitative", "scale": {"domain": [0, 60]},
                      "axis": {"values": [0, 10, 20, 30, 40, 50, 60], "title": "Impact Height [km]", "labelFontSize": 27, "labelFontWeight": "bold", "tickSize": 15, "tickWidth": 3, "labelPadding": 0, "titleFontSize": 42.5, "titleFontWeight": "normal", "titlePadding": 10, "labelFlush": false, "labelOverlap": false}},
                "color": {"field": "model", "type": "nominal",
                          "scale": {"domain": ["BFRPRF", "ERA5", "JRA3Q"], "range": ["#d8322f", "#3b45a7", "#8dc577"]},
                          "legend": {"orient": "none", "legendX": 100, "legendY": 7, "title": null, "padding": 0, "symbolSize": 0, "symbolOpacity": 0, "symbolStrokeWidth": 0, "labelOffset": 0, "labelFontSize": 22, "labelFontWeight": "bold", "rowPadding": 3,
                                     "encode": {"labels": {"update": {"fill": {"signal": "datum.value === 'BFRPRF' ? '#d8322f' : datum.value === 'ERA5' ? '#3b45a7' : '#8dc577'"}}}}}}
              }
            },
            {
              "data": {"name": "prof"},
              "transform": [{"filter": "datum.panel === 'b' && datum.mission === 'YUNYAO'"}],
              "mark": {"type": "line", "strokeWidth": 3.5, "strokeDash": [13, 5.6], "clip": true, "opacity": 0.95, "interpolate": "catmull-rom"},
              "encoding": {
                "x": {"field": "err", "type": "quantitative", "scale": {"domain": [0, 25]}},
                "y": {"field": "h", "type": "quantitative", "scale": {"domain": [0, 60]}},
                "color": {"field": "model", "type": "nominal"},
                "order": {"field": "h"}
              }
            },
            {
              "data": {"name": "prof"},
              "transform": [{"filter": "datum.panel === 'b' && datum.mission === 'SPIRE'"}],
              "mark": {"type": "line", "strokeWidth": 3.5, "strokeDash": [22, 5.6, 3.5, 5.6], "clip": true, "opacity": 0.95, "interpolate": "catmull-rom"},
              "encoding": {
                "x": {"field": "err", "type": "quantitative", "scale": {"domain": [0, 25]}},
                "y": {"field": "h", "type": "quantitative", "scale": {"domain": [0, 60]}},
                "color": {"field": "model", "type": "nominal"},
                "order": {"field": "h"}
              }
            },
            {
              "data": {"name": "prof"},
              "transform": [{"filter": "datum.panel === 'b' && datum.mission === 'COSMIC2'"}],
              "mark": {"type": "line", "strokeWidth": 3.5, "clip": true, "opacity": 0.95, "interpolate": "catmull-rom"},
              "encoding": {
                "x": {"field": "err", "type": "quantitative", "scale": {"domain": [0, 25]}},
                "y": {"field": "h", "type": "quantitative", "scale": {"domain": [0, 60]}},
                "color": {"field": "model", "type": "nominal"},
                "order": {"field": "h"}
              }
            },
            {
              "data": {"values": [{"label": "b"}]},
              "mark": {"type": "text", "fontSize": 28, "color": "black", "align": "center", "baseline": "middle"},
              "encoding": {
                "x": {"datum": -2.97, "type": "quantitative", "scale": {"domain": [0, 25]}},
                "y": {"datum": 67.0, "type": "quantitative", "scale": {"domain": [0, 60]}},
                "text": {"field": "label"}
              }
            },
            {
              "data": {"values": [{}]},
              "mark": {"type": "text", "fontSize": 26.5, "color": "black", "align": "center", "baseline": "middle", "lineHeight": 30,
                       "text": ["Bending angle normalized 3CH error std dev", "COSMIC2,SPIRE,YUNYAO | September-November 2022, 45S-45N"]},
              "encoding": {
                "x": {"datum": 12.5, "type": "quantitative", "scale": {"domain": [0, 25]}},
                "y": {"datum": 67.0, "type": "quantitative", "scale": {"domain": [0, 60]}}
              }
            }
          ]
        },
        {
          "data": {"name": "count"},
          "transform": [{"filter": "datum.panel === 'b'"}],
          "mark": {"type": "line", "color": "#808080", "strokeWidth": 1.3},
          "encoding": {
            "x": {"field": "n", "type": "quantitative", "scale": {"domain": [0, 941000]},
                  "axis": {"orient": "top", "values": [0, 250000, 500000, 750000], "format": "d", "title": null, "labelFontSize": 29, "labelFontWeight": "bold", "tickSize": 6, "tickWidth": 1.5, "labelPadding": 8, "labelFlush": false, "labelOverlap": false}},
            "y": {"field": "h", "type": "quantitative", "scale": {"domain": [0, 60]}},
            "strokeDash": {"field": "mission", "type": "nominal",
                           "scale": {"domain": ["COSMIC2", "YUNYAO", "SPIRE"], "range": [[1, 0], [4.4, 1.9], [7.7, 1.9, 1.2, 1.9]]},
                           "legend": {"orient": "none", "legendX": 577, "legendY": 325, "title": null, "padding": 8, "symbolType": "M-1.9,0H1.9", "symbolSize": 576, "symbolStrokeWidth": 1.5, "symbolStrokeColor": "#808080", "symbolFillColor": "transparent", "labelOffset": 27, "labelFontSize": 20, "labelFontWeight": "bold", "rowPadding": 6, "fillColor": "white", "strokeColor": "#cccccc", "cornerRadius": 5}},
            "order": {"field": "h"}
          }
        },
        {
          "data": {"values": [{}]},
          "mark": {"type": "rule", "opacity": 0},
          "encoding": {
            "x": {"datum": 0, "type": "quantitative", "scale": {"domain": [0, 941000]},
                  "axis": {"orient": "top", "values": [50000, 100000, 150000, 200000, 300000, 350000, 400000, 450000, 550000, 600000, 650000, 700000, 800000, 850000, 900000], "labels": false, "title": null, "tickSize": 4, "tickWidth": 1}}
          }
        }
      ],
      "resolve": {"scale": {"x": "independent"}}
    }
  ],
  "resolve": {
    "scale": {"color": "independent", "strokeDash": "independent"},
    "legend": {"color": "independent", "strokeDash": "independent"}
  },
  "config": {
    "font": "DejaVu Sans",
    "view": {"stroke": "black", "strokeWidth": 1.5},
    "axis": {"grid": false, "domain": false, "labelColor": "black", "tickColor": "black", "titleColor": "black", "labelFont": "DejaVu Sans", "titleFont": "DejaVu Sans"},
    "legend": {"labelFont": "DejaVu Sans", "labelColor": "black"},
    "text": {"font": "DejaVu Sans"}
  }
}
